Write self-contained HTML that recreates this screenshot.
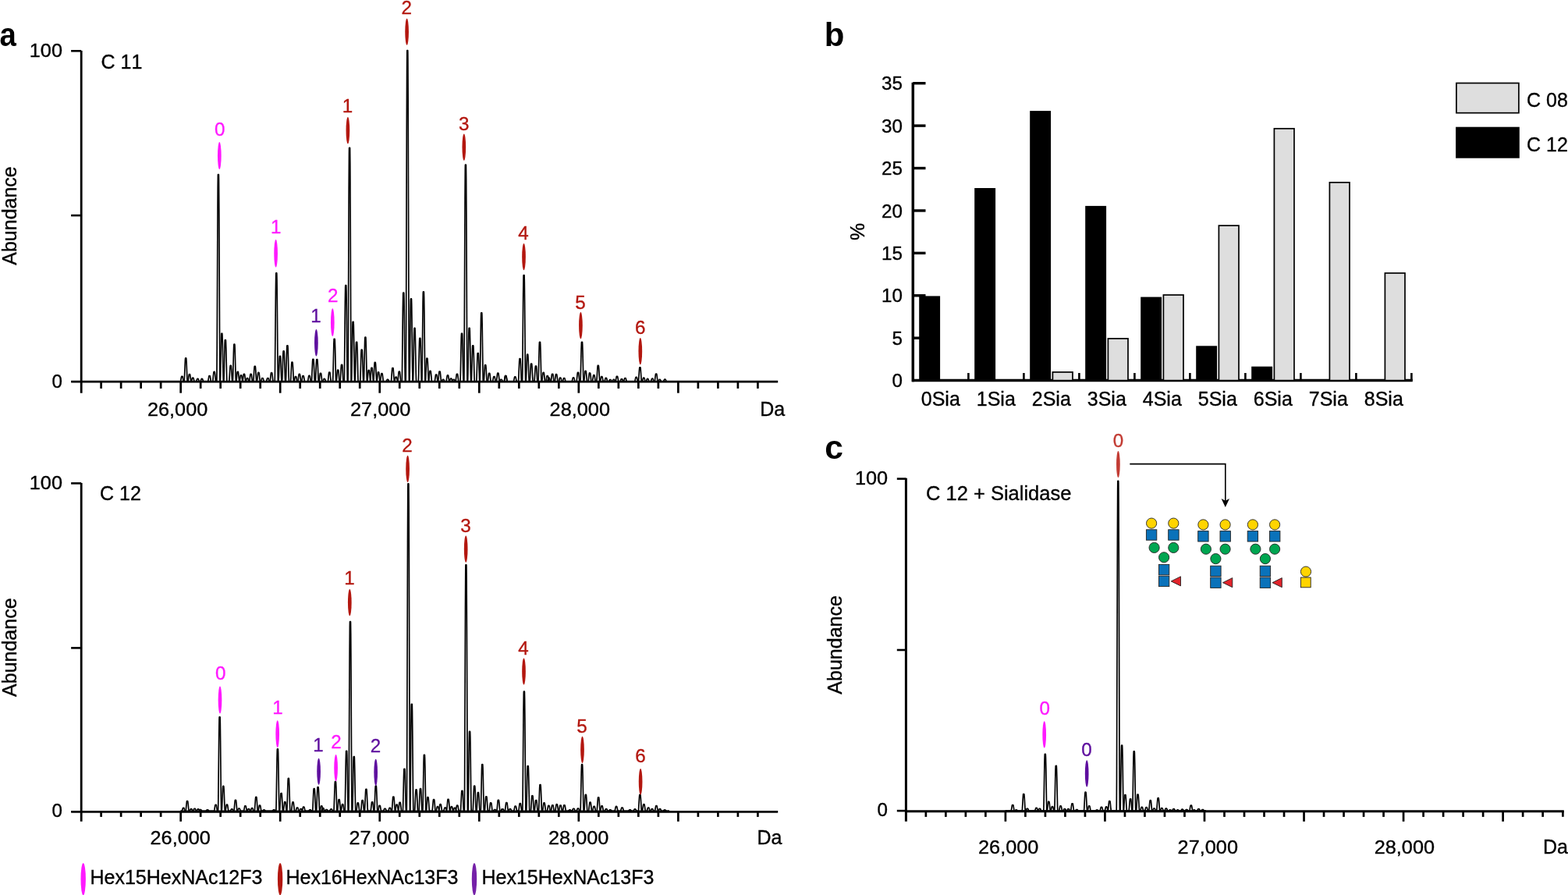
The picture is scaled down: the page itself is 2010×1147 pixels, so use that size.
<!DOCTYPE html>
<html lang="en"><head><meta charset="utf-8"><title>Figure</title>
<style>html,body{margin:0;padding:0;background:#fff;}body{width:2010px;height:1147px;overflow:hidden;}svg{display:block;}text{font-family:"Liberation Sans", sans-serif;font-kerning:none;}</style>
</head><body>
<svg width="2010" height="1147" viewBox="0 0 2010 1147">
<rect width="2010" height="1147" fill="#fff"/>
<text x="-0.60" y="58.70" font-size="42.50" text-anchor="start" fill="#000" stroke="#000" stroke-width="0" font-weight="bold" textLength="21.3" lengthAdjust="spacingAndGlyphs">a</text>
<line x1="104.20" y1="65.00" x2="104.20" y2="503.70" stroke="#000" stroke-width="2.80"/>
<line x1="91.10" y1="489.10" x2="997.20" y2="489.10" stroke="#000" stroke-width="2.60"/>
<line x1="91.10" y1="65.30" x2="104.20" y2="65.30" stroke="#000" stroke-width="2.60"/>
<line x1="91.10" y1="276.10" x2="104.20" y2="276.10" stroke="#000" stroke-width="2.60"/>
<line x1="129.61" y1="489.10" x2="129.61" y2="497.90" stroke="#000" stroke-width="2.70"/>
<line x1="155.12" y1="489.10" x2="155.12" y2="497.90" stroke="#000" stroke-width="2.70"/>
<line x1="180.63" y1="489.10" x2="180.63" y2="497.90" stroke="#000" stroke-width="2.70"/>
<line x1="206.14" y1="489.10" x2="206.14" y2="497.90" stroke="#000" stroke-width="2.70"/>
<line x1="231.65" y1="489.10" x2="231.65" y2="503.70" stroke="#000" stroke-width="2.70"/>
<line x1="257.16" y1="489.10" x2="257.16" y2="497.90" stroke="#000" stroke-width="2.70"/>
<line x1="282.67" y1="489.10" x2="282.67" y2="497.90" stroke="#000" stroke-width="2.70"/>
<line x1="308.18" y1="489.10" x2="308.18" y2="497.90" stroke="#000" stroke-width="2.70"/>
<line x1="333.69" y1="489.10" x2="333.69" y2="497.90" stroke="#000" stroke-width="2.70"/>
<line x1="359.19" y1="489.10" x2="359.19" y2="503.70" stroke="#000" stroke-width="2.70"/>
<line x1="384.70" y1="489.10" x2="384.70" y2="497.90" stroke="#000" stroke-width="2.70"/>
<line x1="410.21" y1="489.10" x2="410.21" y2="497.90" stroke="#000" stroke-width="2.70"/>
<line x1="435.72" y1="489.10" x2="435.72" y2="497.90" stroke="#000" stroke-width="2.70"/>
<line x1="461.23" y1="489.10" x2="461.23" y2="497.90" stroke="#000" stroke-width="2.70"/>
<line x1="486.74" y1="489.10" x2="486.74" y2="503.70" stroke="#000" stroke-width="2.70"/>
<line x1="512.25" y1="489.10" x2="512.25" y2="497.90" stroke="#000" stroke-width="2.70"/>
<line x1="537.76" y1="489.10" x2="537.76" y2="497.90" stroke="#000" stroke-width="2.70"/>
<line x1="563.27" y1="489.10" x2="563.27" y2="497.90" stroke="#000" stroke-width="2.70"/>
<line x1="588.78" y1="489.10" x2="588.78" y2="497.90" stroke="#000" stroke-width="2.70"/>
<line x1="614.28" y1="489.10" x2="614.28" y2="503.70" stroke="#000" stroke-width="2.70"/>
<line x1="639.79" y1="489.10" x2="639.79" y2="497.90" stroke="#000" stroke-width="2.70"/>
<line x1="665.30" y1="489.10" x2="665.30" y2="497.90" stroke="#000" stroke-width="2.70"/>
<line x1="690.81" y1="489.10" x2="690.81" y2="497.90" stroke="#000" stroke-width="2.70"/>
<line x1="716.32" y1="489.10" x2="716.32" y2="497.90" stroke="#000" stroke-width="2.70"/>
<line x1="741.83" y1="489.10" x2="741.83" y2="503.70" stroke="#000" stroke-width="2.70"/>
<line x1="767.34" y1="489.10" x2="767.34" y2="497.90" stroke="#000" stroke-width="2.70"/>
<line x1="792.85" y1="489.10" x2="792.85" y2="497.90" stroke="#000" stroke-width="2.70"/>
<line x1="818.36" y1="489.10" x2="818.36" y2="497.90" stroke="#000" stroke-width="2.70"/>
<line x1="843.87" y1="489.10" x2="843.87" y2="497.90" stroke="#000" stroke-width="2.70"/>
<line x1="869.38" y1="489.10" x2="869.38" y2="503.70" stroke="#000" stroke-width="2.70"/>
<line x1="894.88" y1="489.10" x2="894.88" y2="497.90" stroke="#000" stroke-width="2.70"/>
<line x1="920.39" y1="489.10" x2="920.39" y2="497.90" stroke="#000" stroke-width="2.70"/>
<line x1="945.90" y1="489.10" x2="945.90" y2="497.90" stroke="#000" stroke-width="2.70"/>
<line x1="971.41" y1="489.10" x2="971.41" y2="497.90" stroke="#000" stroke-width="2.70"/>
<text x="80.00" y="72.80" font-size="24.20" text-anchor="end" fill="#000" stroke="#000" stroke-width="0.35" font-weight="normal" textLength="42.20" lengthAdjust="spacingAndGlyphs">100</text>
<text x="80.00" y="497.20" font-size="24.20" text-anchor="end" fill="#000" stroke="#000" stroke-width="0.35" font-weight="normal">0</text>
<text x="129.50" y="88.20" font-size="25.00" text-anchor="start" fill="#000" stroke="#000" stroke-width="0.35" font-weight="normal">C 11</text>
<text transform="translate(20.5,276.5) rotate(-90)" font-size="25.00" text-anchor="middle" stroke="#000" stroke-width="0.35">Abundance</text>
<text x="227.60" y="533.30" font-size="24.20" text-anchor="middle" fill="#000" stroke="#000" stroke-width="0.35" font-weight="normal" textLength="77.37" lengthAdjust="spacingAndGlyphs">26,000</text>
<text x="487.70" y="533.30" font-size="24.20" text-anchor="middle" fill="#000" stroke="#000" stroke-width="0.35" font-weight="normal" textLength="77.37" lengthAdjust="spacingAndGlyphs">27,000</text>
<text x="743.30" y="533.30" font-size="24.20" text-anchor="middle" fill="#000" stroke="#000" stroke-width="0.35" font-weight="normal" textLength="77.37" lengthAdjust="spacingAndGlyphs">28,000</text>
<text x="974.20" y="533.30" font-size="25.00" text-anchor="start" fill="#000" stroke="#000" stroke-width="0.35" font-weight="normal">Da</text>
<polyline points="231.50,488.67 231.80,487.38 232.40,483.82 232.70,482.59 232.90,482.25 233.80,482.23 234.00,482.47 234.20,483.12 235.00,487.66 235.20,488.53 235.40,489.01 235.60,489.10 240.80,489.10 240.90,489.01 241.00,488.78 241.20,487.88 242.00,481.64 242.30,480.03 242.50,479.65 243.30,479.64 243.40,479.65 243.50,479.78 243.70,480.49 244.70,487.93 244.90,488.81 245.00,489.03 245.10,489.10 251.30,489.10 251.50,488.95 251.70,488.58 252.60,485.93 252.80,485.58 252.90,485.49 253.10,485.46 253.90,485.47 254.10,485.66 254.40,486.32 255.10,488.47 255.30,488.88 255.50,489.08 266.40,489.10 266.50,489.05 266.60,488.87 266.80,488.18 267.80,482.27 268.00,481.70 268.10,481.59 268.20,481.58 269.00,481.59 269.20,481.89 269.50,483.15 270.20,487.62 270.40,488.53 270.60,489.03 270.70,489.10 277.70,489.10 277.80,488.55 277.90,484.21 278.20,447.19 278.90,290.69 279.20,240.41 279.40,225.02 279.50,223.62 280.30,223.62 280.40,225.02 280.50,230.65 280.80,270.93 281.70,463.18 281.90,484.21 282.00,488.55 282.10,489.10 286.70,489.10 286.80,488.79 287.00,485.62 287.20,479.41 288.10,440.76 288.30,436.59 288.40,435.75 288.50,435.66 289.30,435.67 289.40,436.24 289.50,437.66 289.80,446.49 290.60,481.84 290.80,487.08 290.90,488.51 291.00,489.09 298.20,489.10 298.30,488.90 298.50,486.24 298.70,480.84 299.40,452.50 299.70,443.81 299.90,441.36 300.00,441.22 300.70,441.22 300.80,441.22 300.90,441.63 301.00,442.81 301.20,447.32 302.10,482.22 302.30,487.08 302.50,489.07 306.90,489.10 307.00,489.03 307.20,488.49 307.40,487.50 308.10,482.65 308.40,481.27 308.60,480.94 309.40,480.94 309.50,480.94 309.60,481.06 309.80,481.67 310.80,488.10 311.00,488.85 311.10,489.04 311.20,489.10 315.00,489.07 315.20,488.80 315.40,488.27 316.30,484.99 316.50,484.64 316.70,484.56 317.50,484.56 317.70,484.73 318.00,485.48 318.70,488.18 318.90,488.74 319.10,489.05 319.20,489.10 324.60,489.10 324.70,488.99 324.80,488.55 325.00,486.79 325.80,473.78 326.10,470.27 326.30,469.33 327.10,469.29 327.20,469.30 327.30,469.50 327.50,470.86 327.80,474.83 328.50,486.40 328.70,488.35 328.80,488.88 328.90,489.10 334.40,489.07 334.60,488.81 334.80,488.28 335.70,485.00 335.90,484.64 336.10,484.56 336.90,484.56 337.10,484.72 337.40,485.47 338.20,488.48 338.40,488.92 338.60,489.10 346.00,489.08 346.20,488.56 346.40,487.37 347.10,480.67 347.40,478.47 347.60,477.78 347.70,477.70 348.50,477.70 348.60,477.75 348.70,477.97 348.90,478.94 349.80,487.23 350.00,488.48 350.20,489.07 356.80,489.10 356.90,488.95 357.00,488.28 357.30,483.38 358.20,459.65 358.40,457.00 358.50,456.44 358.60,456.36 359.40,456.36 359.50,456.65 359.70,458.80 360.00,465.28 360.60,482.20 360.80,486.33 361.00,488.68 361.10,489.08 361.20,489.10 366.30,489.06 366.50,487.07 366.70,482.33 367.40,455.14 367.70,446.08 367.90,443.14 368.00,442.78 368.80,442.78 368.90,442.92 369.00,443.77 369.20,447.61 370.10,481.23 370.40,488.03 370.50,488.92 370.60,489.10 376.80,489.10 377.00,489.02 377.20,488.54 377.40,487.71 378.20,483.34 378.40,482.71 378.50,482.55 378.70,482.49 379.50,482.50 379.70,482.84 380.00,484.03 380.70,487.95 380.90,488.70 381.10,489.07 386.50,489.08 386.70,488.71 386.90,487.90 387.80,482.43 388.00,481.77 388.10,481.62 388.20,481.58 389.10,481.62 389.30,482.07 389.60,483.50 390.30,487.93 390.50,488.73 390.70,489.09 399.20,489.10 399.30,489.05 399.50,487.67 399.70,484.60 400.60,463.59 400.80,461.03 400.90,460.40 401.00,460.24 401.80,460.24 401.90,460.38 402.10,462.03 402.40,467.46 403.10,484.49 403.30,487.60 403.50,489.03 403.60,489.10 408.80,489.10 408.90,489.05 409.10,488.44 409.30,487.22 410.00,480.86 410.30,478.92 410.50,478.38 411.40,478.35 411.50,478.45 411.60,478.72 411.80,479.74 412.70,487.58 412.90,488.66 413.10,489.09 420.20,489.10 420.40,488.62 420.60,487.42 421.40,479.44 421.70,477.48 421.80,477.17 421.90,477.06 422.70,477.05 422.80,477.08 422.90,477.28 423.10,478.24 424.00,486.97 424.20,488.35 424.40,489.04 424.50,489.10 431.10,489.06 431.30,488.31 431.50,486.69 432.20,477.90 432.50,475.11 432.70,474.28 432.80,474.21 433.60,474.21 433.70,474.30 433.80,474.63 434.00,475.96 434.90,486.81 435.10,488.38 435.30,489.08 441.10,489.10 441.20,488.85 441.30,486.82 441.50,477.04 442.40,387.57 442.70,368.82 442.80,366.20 442.90,365.55 443.70,365.55 443.80,366.20 444.00,373.37 444.30,396.76 445.00,469.60 445.30,486.82 445.40,488.85 445.50,489.10 450.40,489.10 450.50,488.92 450.70,485.12 450.90,476.84 451.80,421.02 452.00,414.34 452.10,412.75 452.20,412.38 453.00,412.38 453.10,412.81 453.30,417.33 453.60,431.94 454.30,477.14 454.60,487.74 454.70,488.96 454.80,489.10 461.60,489.07 461.80,487.36 462.00,483.21 462.90,453.40 463.10,449.56 463.20,448.55 463.30,448.21 463.40,448.21 464.10,448.21 464.20,448.32 464.40,450.42 464.70,457.86 465.40,482.06 465.70,488.12 465.80,488.93 465.90,489.10 470.60,489.10 470.70,489.03 470.90,488.21 471.10,486.55 472.00,475.95 472.20,474.76 472.30,474.51 472.40,474.47 473.20,474.47 473.30,474.60 473.50,475.55 473.80,478.44 474.40,486.01 474.60,487.85 474.80,488.91 474.90,489.09 475.00,489.10 478.60,489.10 478.70,489.04 478.90,487.81 479.10,485.13 480.00,467.15 480.20,465.00 480.30,464.50 480.40,464.38 481.20,464.38 481.30,464.52 481.50,465.99 481.80,470.70 482.50,485.26 482.70,487.89 482.90,489.06 483.00,489.10 487.30,489.10 487.40,489.03 487.60,488.40 487.80,487.18 488.50,480.96 488.80,479.11 489.00,478.62 489.80,478.61 489.90,478.61 490.00,478.73 490.20,479.45 490.50,481.57 491.20,487.69 491.40,488.71 491.60,489.10 501.30,489.10 501.40,488.90 501.50,488.42 501.70,486.69 502.50,475.04 502.80,472.14 502.90,471.68 503.00,471.50 503.80,471.49 503.90,471.53 504.00,471.81 504.20,473.19 505.10,485.93 505.30,487.96 505.50,489.00 505.60,489.10 509.60,489.10 509.70,489.10 509.80,488.97 510.00,488.11 510.20,486.52 510.90,478.84 511.20,476.66 511.40,476.15 512.20,476.15 512.30,476.17 512.40,476.36 512.60,477.34 513.50,486.69 513.70,488.22 513.90,489.01 514.00,489.10 520.10,489.10 520.20,488.23 520.30,481.28 520.60,422.10 521.30,171.88 521.60,91.50 521.80,66.89 521.90,64.65 522.70,64.65 522.80,66.89 522.90,75.89 523.20,140.30 524.10,447.66 524.30,481.28 524.40,488.23 524.50,489.10 529.30,489.10 529.40,488.97 529.60,485.69 529.80,478.37 530.70,428.36 530.90,422.27 531.00,420.78 531.10,420.40 531.90,420.40 532.00,420.74 532.20,424.67 532.50,437.62 533.20,478.14 533.40,485.55 533.60,488.94 533.70,489.10 540.70,489.10 540.80,488.86 541.00,483.27 541.20,470.92 542.10,387.12 542.30,377.00 542.40,374.56 542.50,373.95 543.30,373.95 543.40,374.56 543.60,381.23 543.90,403.04 544.60,470.92 544.90,486.98 545.00,488.86 545.10,489.10 549.40,489.10 549.50,488.99 549.70,488.12 549.90,486.48 550.70,477.38 551.00,475.57 551.10,475.39 551.20,475.37 552.00,475.38 552.20,475.95 552.50,478.29 553.30,487.35 553.50,488.64 553.60,488.98 553.70,489.10 561.40,489.10 561.50,489.05 561.70,488.34 561.90,486.88 562.80,477.38 563.00,476.30 563.10,476.06 563.20,476.02 564.00,476.02 564.10,476.12 564.30,476.95 564.60,479.51 565.30,487.19 565.50,488.53 565.70,489.09 571.70,489.10 571.80,489.10 571.90,489.00 572.20,487.97 573.00,482.57 573.30,481.23 573.50,480.94 574.30,480.94 574.40,480.95 574.50,481.09 574.70,481.73 575.60,487.64 575.80,488.58 576.00,489.06 576.10,489.10 579.60,489.09 579.80,488.95 580.00,488.65 580.70,487.04 581.00,486.53 581.20,486.38 582.10,486.37 582.30,486.45 582.50,486.69 583.40,488.68 583.60,488.97 583.80,489.10 589.90,489.09 590.00,488.48 590.10,486.87 590.30,480.91 591.00,444.86 591.30,432.32 591.50,427.98 591.60,427.27 591.70,427.25 592.40,427.25 592.50,427.34 592.70,430.15 593.00,440.98 593.70,477.65 593.90,484.92 594.10,488.69 594.20,489.10 599.40,489.10 599.50,489.02 599.70,485.94 599.90,478.79 600.80,428.74 601.00,422.46 601.10,420.88 601.20,420.40 602.00,420.40 602.10,420.66 602.30,424.39 602.60,437.11 603.30,477.71 603.60,487.63 603.70,488.88 603.80,489.10 610.50,489.10 610.60,489.09 610.70,488.71 610.90,486.21 611.10,481.69 611.90,457.47 612.10,453.87 612.20,452.88 612.30,452.49 612.40,452.48 613.10,452.48 613.20,452.54 613.40,454.24 613.70,460.70 614.50,484.78 614.70,488.06 614.80,488.88 614.90,489.10 620.00,489.10 620.10,489.01 620.30,487.83 620.50,485.41 621.40,469.82 621.60,468.06 621.70,467.67 621.80,467.61 622.60,467.61 622.70,467.79 622.90,469.18 623.20,473.40 623.90,486.00 624.10,488.18 624.30,489.08 631.30,489.10 631.50,488.85 631.70,488.20 632.50,483.82 632.80,482.73 633.00,482.49 633.80,482.49 633.90,482.50 634.00,482.61 634.20,483.12 635.10,487.91 635.30,488.67 635.50,489.06 640.40,489.09 640.60,488.95 640.80,488.65 641.50,487.03 641.80,486.53 642.00,486.38 642.90,486.37 643.10,486.45 643.30,486.70 644.10,488.50 644.30,488.85 644.50,489.06 646.20,489.09 646.40,488.74 646.60,487.96 647.50,482.48 647.70,481.80 647.80,481.63 647.90,481.58 648.80,481.61 649.00,482.03 649.30,483.43 650.00,487.87 650.20,488.69 650.40,489.08 664.40,489.07 664.60,487.80 664.80,484.78 665.70,463.27 665.90,460.53 666.00,459.82 666.10,459.59 666.90,459.59 667.00,459.69 667.20,461.24 667.50,466.64 668.20,484.10 668.40,487.39 668.60,488.99 668.70,489.10 674.10,489.07 674.30,487.58 674.50,484.01 675.40,458.55 675.60,455.29 675.70,454.44 675.80,454.16 676.60,454.16 676.70,454.27 676.90,456.09 677.20,462.47 677.90,483.14 678.20,488.28 678.30,488.96 678.40,489.10 684.80,489.10 684.90,488.95 685.10,487.70 685.30,485.32 686.10,472.01 686.40,469.34 686.50,469.06 686.60,469.04 687.40,469.05 687.60,469.86 687.90,473.26 688.70,486.50 688.90,488.41 689.00,488.92 689.10,489.10 694.50,489.10 694.60,489.02 694.80,488.29 695.00,486.91 695.60,480.92 695.90,478.50 696.10,477.62 696.20,477.46 696.30,477.44 697.10,477.45 697.30,477.92 697.60,479.88 698.40,487.58 698.60,488.69 698.70,488.99 698.80,489.10 701.50,489.10 701.60,489.05 701.80,488.72 702.00,488.12 702.80,484.86 703.00,484.37 703.10,484.23 703.30,484.17 704.10,484.18 704.30,484.40 704.60,485.26 705.30,488.18 705.50,488.76 705.70,489.07 711.00,489.07 711.20,488.56 711.40,487.51 712.30,480.64 712.50,479.85 712.60,479.67 712.70,479.64 713.50,479.64 713.60,479.71 713.80,480.31 714.10,482.15 714.80,487.70 715.00,488.68 715.20,489.09 721.10,489.08 721.30,488.82 721.50,488.30 722.20,485.61 722.50,484.80 722.70,484.57 723.50,484.56 723.70,484.60 723.80,484.71 724.00,485.15 724.90,488.46 725.10,488.91 725.30,489.10 738.90,489.09 739.10,488.61 739.30,487.43 740.10,479.62 740.40,477.72 740.50,477.42 740.60,477.31 741.40,477.31 741.50,477.34 741.60,477.55 741.80,478.50 742.70,487.04 742.90,488.38 743.10,489.05 743.20,489.10 748.40,489.10 748.50,489.07 748.60,488.84 748.90,486.91 749.60,478.81 749.90,476.22 750.10,475.44 750.20,475.37 751.00,475.37 751.10,475.45 751.20,475.75 751.50,477.85 752.40,487.78 752.60,488.86 752.70,489.08 752.80,489.10 759.10,489.10 759.20,489.10 759.30,489.01 759.50,488.42 759.70,487.38 760.50,481.81 760.70,480.99 760.80,480.77 761.00,480.68 761.80,480.69 762.00,481.09 762.30,482.59 763.10,488.12 763.30,488.87 763.40,489.05 763.50,489.10 769.20,489.08 769.40,488.75 769.60,488.03 770.50,483.22 770.70,482.65 770.80,482.52 770.90,482.49 771.70,482.49 771.80,482.53 772.00,482.93 772.30,484.19 773.00,488.08 773.20,488.78 773.40,489.09 780.20,489.09 780.40,488.96 780.60,488.67 781.30,487.13 781.60,486.65 781.80,486.51 782.70,486.50 782.90,486.58 783.10,486.81 783.90,488.53 784.10,488.86 784.30,489.06 788.80,489.10 789.00,488.89 789.20,488.25 790.20,482.85 790.40,482.33 790.60,482.23 791.40,482.23 791.60,482.51 791.90,483.67 792.70,488.21 792.90,488.86 793.10,489.10 799.20,489.10 799.40,489.05 799.70,488.48 800.50,485.47 800.80,484.73 801.00,484.56 801.80,484.56 802.00,484.64 802.20,484.99 803.10,488.28 803.30,488.81 803.50,489.07 818.20,489.10 818.30,489.06 818.40,488.76 818.70,486.22 819.40,475.46 819.70,472.00 819.90,470.95 820.00,470.85 820.80,470.85 820.90,470.95 821.00,471.33 821.20,472.94 822.10,486.22 822.30,488.18 822.50,489.06 828.10,489.07 828.30,488.84 828.50,488.40 829.20,486.24 829.50,485.62 829.70,485.47 830.50,485.46 830.70,485.51 831.00,485.99 831.80,488.40 832.00,488.84 832.20,489.07 839.00,489.10 839.10,489.01 839.20,488.75 839.40,487.79 840.20,481.12 840.50,479.41 840.70,479.00 841.50,479.00 841.60,479.01 841.70,479.15 841.90,479.91 842.20,482.00 842.80,487.20 843.00,488.40 843.20,489.03 843.30,489.10 850.30,489.09 850.50,488.95 850.70,488.62 851.40,486.86 851.70,486.30 851.90,486.12 852.80,486.11 853.00,486.19 853.20,486.46 854.00,488.42 854.30,488.95 854.50,489.09 855.00,489.10" fill="none" stroke="#000" stroke-width="1.70" stroke-linejoin="round"/>
<polyline points="231.50,489.10 236.00,489.10 236.10,488.90 236.30,487.05 236.50,483.50 237.40,461.72 237.60,459.42 237.70,458.98 237.80,458.95 238.60,458.96 238.70,459.31 238.80,460.14 239.10,465.20 239.90,485.13 240.10,488.02 240.20,488.80 240.30,489.10 245.10,489.09 245.30,488.88 245.50,488.37 246.20,485.47 246.50,484.51 246.70,484.21 246.80,484.17 247.60,484.17 247.80,484.28 248.00,484.69 248.90,488.28 249.10,488.82 249.30,489.08 256.80,489.07 257.00,488.85 257.20,488.42 257.90,486.26 258.20,485.63 258.40,485.47 259.20,485.46 259.40,485.51 259.60,485.77 260.60,488.63 260.80,488.97 261.00,489.10 272.50,489.10 272.60,488.97 272.70,488.63 272.90,487.40 273.60,479.99 273.90,477.43 274.10,476.55 274.20,476.41 274.30,476.41 275.10,476.43 275.30,477.02 275.60,479.25 276.30,486.78 276.50,488.26 276.70,489.02 276.80,489.10 282.20,489.09 282.30,488.47 282.40,486.84 282.60,480.85 283.30,444.78 283.60,432.28 283.80,427.96 283.90,427.27 284.00,427.25 284.70,427.25 284.80,427.34 285.00,430.18 285.30,441.05 286.10,481.73 286.30,487.31 286.40,488.70 286.50,489.10 293.60,489.09 293.80,488.22 294.00,486.12 294.90,471.02 295.10,469.07 295.20,468.56 295.30,468.39 295.40,468.39 296.10,468.39 296.20,468.45 296.40,469.51 296.70,473.27 297.40,485.53 297.70,488.60 297.80,489.01 297.90,489.10 302.60,489.10 302.70,489.04 302.90,488.33 303.10,486.89 304.00,477.69 304.20,476.66 304.30,476.44 304.40,476.41 305.20,476.41 305.30,476.52 305.40,476.84 305.70,478.88 306.50,487.29 306.70,488.57 306.90,489.09 310.70,489.10 310.80,489.10 310.90,488.98 311.10,488.28 311.30,487.06 312.10,480.64 312.30,479.72 312.40,479.47 312.50,479.38 312.60,479.38 313.40,479.41 313.60,479.89 313.90,481.65 314.60,487.40 314.80,488.51 315.00,489.05 315.10,489.10 319.50,489.07 319.70,488.58 319.90,487.51 320.60,481.78 320.90,479.96 321.10,479.42 322.00,479.38 322.10,479.45 322.20,479.66 322.40,480.54 323.30,487.62 323.50,488.64 323.70,489.09 329.30,489.09 329.50,488.61 329.70,487.43 330.50,479.71 330.80,477.83 330.90,477.54 331.00,477.44 331.80,477.44 331.90,477.47 332.00,477.68 332.20,478.63 333.10,487.08 333.30,488.40 333.50,489.05 333.60,489.10 341.20,489.10 341.40,488.91 341.60,488.45 342.40,485.44 342.70,484.71 342.90,484.56 343.70,484.56 343.90,484.65 344.10,485.02 345.00,488.31 345.20,488.83 345.40,489.08 352.10,489.10 352.20,488.81 352.30,486.53 352.50,475.50 353.40,374.67 353.70,353.54 353.80,350.58 353.90,349.85 354.70,349.85 354.80,350.58 355.00,358.66 355.30,385.03 356.00,467.12 356.30,486.53 356.40,488.81 356.50,489.10 361.40,489.10 361.50,489.09 361.60,488.65 361.80,485.92 362.00,481.04 362.80,455.12 363.00,451.32 363.10,450.29 363.20,449.90 363.30,449.89 364.00,449.89 364.10,449.97 364.30,451.85 364.60,458.83 365.40,484.57 365.60,488.04 365.70,488.88 365.80,489.10 372.30,489.10 372.40,489.04 372.60,487.81 372.80,485.12 373.70,466.94 373.90,464.76 374.00,464.24 374.10,464.12 374.90,464.12 375.00,464.26 375.20,465.73 375.50,470.48 376.20,485.20 376.40,487.86 376.60,489.05 376.70,489.10 381.70,489.09 381.90,488.65 382.10,487.64 382.80,481.92 383.10,480.05 383.30,479.45 383.40,479.38 384.20,479.38 384.30,479.42 384.40,479.61 384.60,480.43 385.50,487.50 385.70,488.56 385.90,489.07 394.40,489.08 394.60,488.67 394.80,487.81 395.50,483.21 395.80,481.77 396.00,481.35 396.90,481.32 397.00,481.38 397.10,481.56 397.30,482.27 398.20,487.94 398.40,488.74 398.60,489.09 404.20,489.08 404.40,487.85 404.60,484.93 405.50,464.08 405.70,461.42 405.80,460.73 405.90,460.50 406.70,460.50 406.80,460.59 407.00,462.08 407.30,467.31 408.00,484.23 408.20,487.43 408.40,488.99 408.50,489.10 413.70,489.08 413.90,488.86 414.10,488.43 414.80,486.27 415.10,485.63 415.30,485.47 416.10,485.46 416.30,485.51 416.50,485.76 416.80,486.50 417.50,488.62 417.70,488.97 417.90,489.10 426.50,489.10 426.60,488.79 426.70,487.60 427.00,479.22 427.90,439.61 428.10,435.33 428.20,434.47 428.30,434.37 429.10,434.38 429.20,434.95 429.30,436.40 429.60,445.42 430.40,481.63 430.60,487.01 430.70,488.49 430.80,489.09 436.00,489.07 436.20,488.08 436.40,485.80 437.10,473.01 437.40,468.82 437.60,467.50 437.70,467.35 438.50,467.35 438.60,467.44 438.70,467.87 438.90,469.72 439.80,485.53 440.00,487.92 440.20,489.04 440.30,489.10 445.90,489.10 446.00,488.48 446.10,483.57 446.30,459.82 447.20,242.67 447.50,197.17 447.60,190.81 447.70,189.23 448.50,189.23 448.60,190.81 448.80,208.20 449.10,264.98 449.80,441.76 450.10,483.57 450.20,488.48 450.30,489.10 454.90,489.10 455.00,489.07 455.10,488.44 455.30,484.78 455.50,478.37 456.30,444.80 456.50,439.98 456.60,438.70 456.70,438.25 457.50,438.25 457.60,438.38 457.80,440.94 458.10,450.13 458.80,480.24 459.00,486.01 459.20,488.87 459.30,489.10 466.20,489.10 466.30,488.86 466.50,485.70 466.70,479.27 467.60,437.98 467.80,433.33 467.90,432.33 468.00,432.17 468.80,432.17 468.90,432.66 469.00,434.06 469.30,443.20 470.10,480.92 470.30,486.69 470.50,489.06 474.30,489.10 474.40,489.09 474.50,488.88 474.70,487.61 474.90,485.37 475.50,476.14 475.80,472.59 476.00,471.40 476.10,471.23 476.90,471.23 477.00,471.27 477.10,471.58 477.30,473.00 478.20,485.95 478.50,488.64 478.60,489.01 478.70,489.10 482.90,489.10 483.00,489.03 483.20,488.29 483.40,486.86 484.30,477.96 484.50,477.01 484.60,476.82 484.70,476.80 485.50,476.80 485.70,477.26 486.00,479.30 486.80,487.44 487.00,488.64 487.20,489.10 494.90,489.08 495.10,488.92 495.30,488.60 496.20,486.63 496.40,486.42 496.60,486.37 497.40,486.37 497.60,486.47 497.90,486.92 498.60,488.54 498.80,488.88 499.00,489.07 505.60,489.09 505.80,488.80 506.00,488.16 506.70,484.65 507.00,483.52 507.20,483.17 508.10,483.13 508.30,483.29 508.50,483.81 509.40,488.15 509.60,488.79 509.80,489.09 515.10,489.10 515.20,488.87 515.30,487.00 515.50,477.96 516.40,395.38 516.70,378.07 516.80,375.65 516.90,375.05 517.70,375.05 517.80,375.65 518.00,382.26 518.30,403.86 519.00,471.10 519.30,487.00 519.40,488.87 519.50,489.10 524.80,489.10 524.90,488.88 525.10,483.72 525.30,472.34 526.20,395.09 526.40,385.76 526.50,383.51 526.60,382.95 527.40,382.95 527.50,383.51 527.70,389.66 528.00,409.77 528.70,472.34 529.00,487.14 529.10,488.88 529.20,489.10 536.20,489.10 536.30,488.71 536.50,485.28 536.70,478.70 537.30,450.06 537.60,438.43 537.80,434.21 537.90,433.40 538.00,433.33 538.80,433.36 538.90,434.01 539.00,435.56 539.30,444.94 540.10,481.78 540.30,487.13 540.40,488.56 540.50,489.10 545.30,489.07 545.50,487.74 545.70,484.63 546.40,467.06 546.70,461.27 546.90,459.42 547.00,459.20 547.80,459.20 547.90,459.31 548.00,459.89 548.30,464.27 549.20,485.97 549.40,488.45 549.50,489.00 549.60,489.10 557.10,489.07 557.30,488.58 557.50,487.57 558.40,480.99 558.60,480.23 558.70,480.06 558.80,480.03 559.60,480.03 559.70,480.10 559.90,480.67 560.20,482.44 560.90,487.76 561.10,488.70 561.30,489.09 565.90,489.10 566.10,489.06 566.30,488.85 566.50,488.49 567.30,486.70 567.50,486.45 567.70,486.37 568.60,486.38 568.80,486.53 569.10,487.04 569.80,488.65 570.00,488.95 570.20,489.09 576.00,489.08 576.20,488.84 576.40,488.38 577.10,486.00 577.40,485.28 577.60,485.08 578.40,485.07 578.60,485.12 578.70,485.22 578.90,485.61 579.70,488.27 579.90,488.77 580.10,489.05 580.30,489.10 583.80,489.10 583.90,489.03 584.00,488.81 584.20,487.92 585.20,480.16 585.40,479.41 585.50,479.27 585.60,479.25 586.40,479.26 586.60,479.64 586.90,481.29 587.60,487.13 587.80,488.34 588.00,489.00 588.10,489.10 594.70,489.10 594.80,488.53 594.90,483.97 595.10,461.95 596.00,260.61 596.30,218.42 596.40,212.52 596.50,211.06 597.30,211.06 597.40,212.52 597.60,228.64 597.90,281.30 598.60,445.21 598.90,483.97 599.00,488.53 599.10,489.10 604.10,489.10 604.20,488.85 604.40,486.14 604.60,480.80 605.50,447.27 605.70,443.62 605.80,442.87 605.90,442.78 606.70,442.78 606.80,443.25 606.90,444.46 607.20,452.06 608.00,482.72 608.20,487.30 608.30,488.56 608.40,489.09 615.10,489.10 615.20,488.56 615.30,486.60 615.60,472.96 616.50,409.07 616.70,402.23 616.80,400.88 616.90,400.74 617.70,400.76 617.80,401.72 617.90,404.10 618.20,418.78 619.00,477.21 619.20,485.82 619.30,488.16 619.40,489.09 625.10,489.09 625.30,488.65 625.50,487.57 626.30,480.45 626.60,478.71 626.70,478.44 626.80,478.35 627.60,478.35 627.70,478.38 627.80,478.56 628.00,479.43 628.90,487.23 629.10,488.45 629.30,489.05 629.40,489.10 636.20,489.10 636.30,489.01 636.40,488.73 636.60,487.70 637.40,480.43 637.70,478.56 637.90,478.10 638.70,478.09 638.80,478.10 638.90,478.25 639.10,479.06 640.10,487.72 640.30,488.75 640.40,489.01 640.50,489.10 646.00,489.10 646.10,489.04 646.30,488.55 646.50,487.65 647.30,482.67 647.60,481.69 647.70,481.59 647.80,481.58 648.60,481.59 648.80,481.91 649.10,483.20 649.90,488.15 650.10,488.86 650.30,489.10 658.20,489.09 658.40,488.81 658.60,488.15 659.50,483.62 659.70,483.06 659.90,482.88 660.80,482.90 661.00,483.25 661.30,484.41 662.00,488.08 662.20,488.76 662.40,489.08 669.40,489.10 669.50,488.82 669.60,486.58 669.80,475.77 670.70,376.89 671.00,356.17 671.10,353.27 671.20,352.55 672.00,352.55 672.10,353.27 672.30,361.19 672.60,387.05 673.30,467.54 673.60,486.58 673.70,488.82 673.80,489.10 679.00,489.10 679.10,488.85 679.30,487.26 679.50,484.41 680.30,469.17 680.50,466.92 680.60,466.31 680.70,466.06 680.80,466.06 681.60,466.10 681.80,467.19 682.10,471.27 682.80,484.92 683.00,487.60 683.20,488.97 683.30,489.10 689.80,489.10 689.90,489.00 690.10,486.52 690.30,481.07 691.20,444.07 691.40,439.60 691.50,438.52 691.60,438.25 692.40,438.25 692.50,438.52 692.70,441.47 693.00,451.10 693.70,481.07 694.00,488.16 694.10,489.00 694.20,489.10 699.60,489.09 699.80,488.72 700.00,487.92 700.90,482.45 701.10,481.78 701.20,481.62 701.30,481.58 702.20,481.62 702.40,482.05 702.70,483.47 703.40,487.91 703.70,488.96 703.80,489.08 703.90,489.10 706.00,489.10 706.10,489.05 706.30,488.47 706.50,487.34 707.40,480.21 707.60,479.43 707.70,479.27 707.80,479.25 708.60,479.25 708.80,479.61 709.10,481.22 709.90,487.74 710.10,488.72 710.30,489.10 716.20,489.07 716.40,488.76 716.60,488.18 717.30,485.26 717.60,484.40 717.80,484.18 718.60,484.17 718.80,484.23 719.00,484.58 719.30,485.58 720.00,488.45 720.20,488.93 720.40,489.10 732.90,489.10 733.10,488.97 733.30,488.52 734.10,485.12 734.40,484.18 734.60,483.92 735.40,483.91 735.60,483.96 735.70,484.09 735.90,484.58 736.80,488.37 737.00,488.89 737.20,489.10 743.80,489.10 743.90,489.00 744.00,488.16 744.20,484.14 745.10,447.39 745.40,439.69 745.50,438.62 745.60,438.35 746.40,438.35 746.50,438.62 746.70,441.56 747.00,451.17 747.70,481.09 748.00,488.16 748.10,489.00 748.20,489.10 753.80,489.10 753.90,489.10 754.00,488.97 754.20,488.18 754.40,486.79 755.20,479.43 755.40,478.36 755.50,478.07 755.60,477.96 755.70,477.96 756.50,477.98 756.70,478.53 757.00,480.52 757.70,487.12 757.90,488.40 758.10,489.04 758.20,489.10 764.60,489.10 764.70,488.98 764.80,488.53 765.10,485.35 766.00,470.37 766.20,468.75 766.30,468.42 766.40,468.39 767.20,468.39 767.30,468.61 767.40,469.16 767.70,472.58 768.50,486.28 768.70,488.31 768.80,488.87 768.90,489.10 774.80,489.07 775.00,488.77 775.20,488.22 775.90,485.45 776.20,484.64 776.40,484.43 777.20,484.43 777.40,484.49 777.60,484.82 778.60,488.49 778.80,488.94 779.00,489.10 784.70,489.10 784.90,488.98 785.10,488.70 786.00,486.71 786.20,486.45 786.40,486.37 787.30,486.38 787.50,486.52 787.80,487.02 788.50,488.64 788.70,488.94 788.90,489.09 794.80,489.09 795.00,488.94 795.20,488.58 795.90,486.59 796.20,485.94 796.40,485.74 796.50,485.72 797.30,485.72 797.50,485.81 797.70,486.10 798.60,488.55 798.80,488.92 799.00,489.09 813.50,489.10 813.70,488.93 813.90,488.40 814.70,484.57 815.00,483.54 815.20,483.27 816.00,483.26 816.20,483.33 816.40,483.74 816.70,484.92 817.40,488.32 817.60,488.89 817.80,489.10 823.00,489.10 823.20,489.05 823.40,488.70 823.60,488.09 824.30,485.17 824.60,484.35 824.80,484.17 825.60,484.17 825.80,484.26 826.00,484.64 826.90,488.21 827.20,488.96 827.40,489.10 834.00,489.10 834.20,489.05 834.40,488.78 834.60,488.29 835.40,485.72 835.60,485.34 835.70,485.24 835.90,485.20 836.70,485.21 836.90,485.40 837.20,486.10 837.90,488.41 838.10,488.86 838.30,489.08 843.60,489.09 843.80,488.93 844.00,488.62 844.70,487.00 845.00,486.51 845.20,486.37 846.00,486.37 846.30,486.47 846.50,486.73 847.40,488.72 847.60,488.99 847.80,489.10 855.00,489.10" fill="none" stroke="#000" stroke-width="1.70" stroke-linejoin="round"/>
<text x="281.70" y="173.50" font-size="24.20" text-anchor="middle" fill="#FF19FF" stroke="#FF19FF" stroke-width="0.35" font-weight="normal">0</text>
<ellipse cx="281.30" cy="199.55" rx="2.35" ry="17.45" fill="#FF19FF"/>
<text x="353.80" y="298.90" font-size="24.20" text-anchor="middle" fill="#FF19FF" stroke="#FF19FF" stroke-width="0.35" font-weight="normal">1</text>
<ellipse cx="353.60" cy="324.75" rx="2.35" ry="17.85" fill="#FF19FF"/>
<text x="405.00" y="412.50" font-size="24.20" text-anchor="middle" fill="#5E0F9E" stroke="#5E0F9E" stroke-width="0.35" font-weight="normal">1</text>
<ellipse cx="405.40" cy="439.25" rx="2.35" ry="17.25" fill="#5E0F9E"/>
<text x="426.70" y="387.10" font-size="24.20" text-anchor="middle" fill="#FF19FF" stroke="#FF19FF" stroke-width="0.35" font-weight="normal">2</text>
<ellipse cx="426.30" cy="413.15" rx="2.35" ry="17.95" fill="#FF19FF"/>
<text x="445.60" y="144.30" font-size="24.20" text-anchor="middle" fill="#B3170F" stroke="#B3170F" stroke-width="0.35" font-weight="normal">1</text>
<ellipse cx="445.90" cy="167.10" rx="2.35" ry="17.10" fill="#B3170F"/>
<text x="521.20" y="18.40" font-size="24.20" text-anchor="middle" fill="#B3170F" stroke="#B3170F" stroke-width="0.35" font-weight="normal">2</text>
<ellipse cx="521.60" cy="40.75" rx="2.35" ry="17.05" fill="#B3170F"/>
<text x="594.80" y="166.60" font-size="24.20" text-anchor="middle" fill="#B3170F" stroke="#B3170F" stroke-width="0.35" font-weight="normal">3</text>
<ellipse cx="594.80" cy="188.60" rx="2.35" ry="17.10" fill="#B3170F"/>
<text x="671.10" y="307.10" font-size="24.20" text-anchor="middle" fill="#B3170F" stroke="#B3170F" stroke-width="0.35" font-weight="normal">4</text>
<ellipse cx="671.50" cy="329.10" rx="2.35" ry="17.10" fill="#B3170F"/>
<text x="744.00" y="395.50" font-size="24.20" text-anchor="middle" fill="#B3170F" stroke="#B3170F" stroke-width="0.35" font-weight="normal">5</text>
<ellipse cx="744.40" cy="417.10" rx="2.35" ry="17.10" fill="#B3170F"/>
<text x="820.80" y="428.00" font-size="24.20" text-anchor="middle" fill="#B3170F" stroke="#B3170F" stroke-width="0.35" font-weight="normal">6</text>
<ellipse cx="820.80" cy="450.20" rx="2.35" ry="17.10" fill="#B3170F"/>
<line x1="104.20" y1="619.10" x2="104.20" y2="1052.80" stroke="#000" stroke-width="2.80"/>
<line x1="91.10" y1="1040.40" x2="997.20" y2="1040.40" stroke="#000" stroke-width="2.70"/>
<line x1="91.10" y1="619.40" x2="104.20" y2="619.40" stroke="#000" stroke-width="2.60"/>
<line x1="91.10" y1="830.40" x2="104.20" y2="830.40" stroke="#000" stroke-width="2.60"/>
<line x1="129.61" y1="1040.40" x2="129.61" y2="1046.90" stroke="#000" stroke-width="2.70"/>
<line x1="155.12" y1="1040.40" x2="155.12" y2="1046.90" stroke="#000" stroke-width="2.70"/>
<line x1="180.63" y1="1040.40" x2="180.63" y2="1046.90" stroke="#000" stroke-width="2.70"/>
<line x1="206.14" y1="1040.40" x2="206.14" y2="1046.90" stroke="#000" stroke-width="2.70"/>
<line x1="231.65" y1="1040.40" x2="231.65" y2="1052.80" stroke="#000" stroke-width="2.70"/>
<line x1="257.16" y1="1040.40" x2="257.16" y2="1046.90" stroke="#000" stroke-width="2.70"/>
<line x1="282.67" y1="1040.40" x2="282.67" y2="1046.90" stroke="#000" stroke-width="2.70"/>
<line x1="308.18" y1="1040.40" x2="308.18" y2="1046.90" stroke="#000" stroke-width="2.70"/>
<line x1="333.69" y1="1040.40" x2="333.69" y2="1046.90" stroke="#000" stroke-width="2.70"/>
<line x1="359.19" y1="1040.40" x2="359.19" y2="1052.80" stroke="#000" stroke-width="2.70"/>
<line x1="384.70" y1="1040.40" x2="384.70" y2="1046.90" stroke="#000" stroke-width="2.70"/>
<line x1="410.21" y1="1040.40" x2="410.21" y2="1046.90" stroke="#000" stroke-width="2.70"/>
<line x1="435.72" y1="1040.40" x2="435.72" y2="1046.90" stroke="#000" stroke-width="2.70"/>
<line x1="461.23" y1="1040.40" x2="461.23" y2="1046.90" stroke="#000" stroke-width="2.70"/>
<line x1="486.74" y1="1040.40" x2="486.74" y2="1052.80" stroke="#000" stroke-width="2.70"/>
<line x1="512.25" y1="1040.40" x2="512.25" y2="1046.90" stroke="#000" stroke-width="2.70"/>
<line x1="537.76" y1="1040.40" x2="537.76" y2="1046.90" stroke="#000" stroke-width="2.70"/>
<line x1="563.27" y1="1040.40" x2="563.27" y2="1046.90" stroke="#000" stroke-width="2.70"/>
<line x1="588.78" y1="1040.40" x2="588.78" y2="1046.90" stroke="#000" stroke-width="2.70"/>
<line x1="614.28" y1="1040.40" x2="614.28" y2="1052.80" stroke="#000" stroke-width="2.70"/>
<line x1="639.79" y1="1040.40" x2="639.79" y2="1046.90" stroke="#000" stroke-width="2.70"/>
<line x1="665.30" y1="1040.40" x2="665.30" y2="1046.90" stroke="#000" stroke-width="2.70"/>
<line x1="690.81" y1="1040.40" x2="690.81" y2="1046.90" stroke="#000" stroke-width="2.70"/>
<line x1="716.32" y1="1040.40" x2="716.32" y2="1046.90" stroke="#000" stroke-width="2.70"/>
<line x1="741.83" y1="1040.40" x2="741.83" y2="1052.80" stroke="#000" stroke-width="2.70"/>
<line x1="767.34" y1="1040.40" x2="767.34" y2="1046.90" stroke="#000" stroke-width="2.70"/>
<line x1="792.85" y1="1040.40" x2="792.85" y2="1046.90" stroke="#000" stroke-width="2.70"/>
<line x1="818.36" y1="1040.40" x2="818.36" y2="1046.90" stroke="#000" stroke-width="2.70"/>
<line x1="843.87" y1="1040.40" x2="843.87" y2="1046.90" stroke="#000" stroke-width="2.70"/>
<line x1="869.38" y1="1040.40" x2="869.38" y2="1052.80" stroke="#000" stroke-width="2.70"/>
<line x1="894.88" y1="1040.40" x2="894.88" y2="1046.90" stroke="#000" stroke-width="2.70"/>
<line x1="920.39" y1="1040.40" x2="920.39" y2="1046.90" stroke="#000" stroke-width="2.70"/>
<line x1="945.90" y1="1040.40" x2="945.90" y2="1046.90" stroke="#000" stroke-width="2.70"/>
<line x1="971.41" y1="1040.40" x2="971.41" y2="1046.90" stroke="#000" stroke-width="2.70"/>
<text x="80.00" y="627.10" font-size="24.20" text-anchor="end" fill="#000" stroke="#000" stroke-width="0.35" font-weight="normal" textLength="42.20" lengthAdjust="spacingAndGlyphs">100</text>
<text x="80.00" y="1047.40" font-size="24.20" text-anchor="end" fill="#000" stroke="#000" stroke-width="0.35" font-weight="normal">0</text>
<text x="128.10" y="641.30" font-size="25.00" text-anchor="start" fill="#000" stroke="#000" stroke-width="0.35" font-weight="normal">C 12</text>
<text transform="translate(20.5,829.7) rotate(-90)" font-size="25.00" text-anchor="middle" stroke="#000" stroke-width="0.35">Abundance</text>
<text x="231.20" y="1082.30" font-size="24.20" text-anchor="middle" fill="#000" stroke="#000" stroke-width="0.35" font-weight="normal" textLength="77.37" lengthAdjust="spacingAndGlyphs">26,000</text>
<text x="486.20" y="1082.30" font-size="24.20" text-anchor="middle" fill="#000" stroke="#000" stroke-width="0.35" font-weight="normal" textLength="77.37" lengthAdjust="spacingAndGlyphs">27,000</text>
<text x="741.70" y="1082.30" font-size="24.20" text-anchor="middle" fill="#000" stroke="#000" stroke-width="0.35" font-weight="normal" textLength="77.37" lengthAdjust="spacingAndGlyphs">28,000</text>
<text x="970.50" y="1082.00" font-size="25.00" text-anchor="start" fill="#000" stroke="#000" stroke-width="0.35" font-weight="normal">Da</text>
<polyline points="231.50,1039.30 233.00,1039.30 233.20,1039.21 233.50,1038.64 234.40,1035.78 234.60,1035.46 234.80,1035.37 235.60,1035.37 235.70,1035.40 235.90,1035.65 236.20,1036.41 236.90,1038.72 237.10,1039.13 237.30,1039.30 242.90,1039.30 243.10,1039.18 243.30,1038.91 244.00,1037.36 244.30,1036.85 244.60,1036.66 245.40,1036.66 245.60,1036.72 245.90,1037.11 246.80,1039.02 247.00,1039.24 247.20,1039.30 252.00,1039.29 252.20,1039.15 252.40,1038.88 253.30,1037.15 253.50,1036.97 253.70,1036.92 254.50,1036.92 254.70,1037.01 255.00,1037.40 255.80,1038.97 256.00,1039.21 256.20,1039.30 263.90,1039.29 264.30,1039.04 265.00,1038.17 265.30,1037.90 265.50,1037.83 266.30,1037.83 266.60,1037.88 266.80,1038.02 267.70,1039.10 268.10,1039.30 279.40,1039.30 279.50,1039.05 279.60,1037.08 279.80,1027.53 280.70,940.23 281.00,921.94 281.10,919.38 281.20,918.75 282.00,918.75 282.10,919.38 282.30,926.38 282.60,949.20 283.30,1020.27 283.60,1037.08 283.70,1039.05 283.80,1039.30 288.80,1039.30 288.90,1039.21 289.10,1038.65 289.30,1037.64 290.10,1032.21 290.30,1031.41 290.40,1031.19 290.60,1031.10 291.40,1031.11 291.60,1031.50 291.90,1032.95 292.60,1037.81 292.80,1038.76 293.00,1039.25 293.10,1039.30 299.80,1039.30 300.00,1038.75 300.20,1037.36 301.10,1027.14 301.30,1025.79 301.40,1025.42 301.50,1025.28 301.60,1025.28 302.40,1025.31 302.60,1025.99 302.90,1028.49 303.70,1037.69 303.90,1038.93 304.00,1039.23 304.10,1039.30 312.40,1039.27 312.60,1038.91 312.80,1038.17 313.70,1033.45 313.90,1032.91 314.00,1032.80 314.10,1032.78 314.90,1032.78 315.10,1033.00 315.40,1034.05 316.20,1038.37 316.40,1039.03 316.60,1039.30 321.10,1039.27 321.30,1039.02 321.50,1038.58 322.20,1036.40 322.50,1035.78 322.70,1035.63 323.50,1035.63 323.70,1035.68 323.90,1035.96 324.80,1038.61 325.00,1039.04 325.20,1039.27 330.80,1039.30 330.90,1039.27 331.00,1039.12 331.30,1038.03 332.20,1032.74 332.40,1032.15 332.50,1032.02 332.60,1032.01 333.40,1032.01 333.60,1032.26 333.90,1033.43 334.70,1038.27 334.90,1039.00 335.10,1039.30 349.00,1039.29 349.40,1039.05 350.30,1037.98 350.50,1037.86 350.70,1037.83 351.50,1037.83 351.80,1037.93 352.80,1039.08 353.20,1039.30 358.40,1039.29 358.60,1038.38 358.80,1036.10 359.70,1019.47 359.90,1017.28 360.00,1016.70 360.10,1016.48 360.20,1016.48 360.90,1016.48 361.00,1016.54 361.20,1017.66 361.50,1021.76 362.20,1035.28 362.40,1037.88 362.60,1039.19 362.70,1039.30 367.70,1039.30 367.80,1038.89 367.90,1037.81 368.10,1033.79 368.80,1009.41 369.10,1000.92 369.30,997.97 369.40,997.48 369.50,997.47 370.20,997.47 370.30,997.52 370.50,999.41 370.80,1006.72 371.60,1034.25 371.80,1038.06 371.90,1039.02 372.00,1039.30 379.00,1039.29 379.20,1039.07 379.40,1038.60 380.30,1035.46 380.50,1035.09 380.70,1034.98 381.50,1034.98 381.60,1035.01 381.80,1035.27 382.10,1036.09 382.80,1038.63 383.10,1039.23 383.30,1039.30 387.10,1039.30 387.30,1039.12 387.50,1038.62 388.50,1034.51 388.70,1034.14 388.90,1034.08 389.70,1034.08 389.90,1034.31 390.20,1035.22 390.90,1038.32 391.10,1038.94 391.30,1039.26 400.50,1039.30 400.60,1039.23 400.80,1037.81 401.00,1034.71 401.90,1013.88 402.10,1011.39 402.20,1010.80 402.30,1010.66 403.10,1010.66 403.20,1010.83 403.40,1012.52 403.70,1017.98 404.40,1034.85 404.60,1037.89 404.80,1039.25 404.90,1039.30 409.90,1039.30 410.10,1039.23 410.30,1038.79 410.50,1038.00 411.20,1034.13 411.50,1033.04 411.70,1032.78 412.50,1032.78 412.70,1032.89 412.90,1033.39 413.90,1038.52 414.10,1039.11 414.30,1039.30 416.60,1039.27 417.00,1038.91 417.80,1037.77 418.00,1037.62 418.20,1037.57 419.10,1037.58 419.30,1037.67 419.60,1038.00 420.30,1039.02 420.50,1039.21 420.70,1039.30 427.80,1039.30 427.90,1039.05 428.00,1038.19 428.20,1034.77 429.20,1005.09 429.40,1002.22 429.50,1001.66 429.60,1001.61 430.40,1001.62 430.50,1002.05 430.60,1003.09 430.90,1009.40 431.70,1034.31 431.90,1037.94 432.00,1038.92 432.10,1039.30 437.00,1039.30 437.10,1039.22 437.30,1038.66 437.50,1037.61 438.20,1032.52 438.50,1031.06 438.70,1030.72 439.50,1030.71 439.60,1030.72 439.70,1030.84 439.90,1031.49 440.20,1033.27 440.80,1037.68 441.00,1038.70 441.20,1039.24 441.30,1039.30 446.80,1039.30 446.90,1038.80 447.00,1034.83 447.20,1015.61 448.10,839.89 448.40,803.07 448.50,797.93 448.60,796.65 449.40,796.65 449.50,797.93 449.70,812.00 450.00,857.95 450.70,1001.00 451.00,1034.83 451.10,1038.80 451.20,1039.30 456.70,1039.28 456.90,1038.80 457.10,1037.70 458.00,1030.13 458.20,1029.20 458.30,1028.96 458.40,1028.90 459.20,1028.90 459.30,1028.95 459.50,1029.53 459.80,1031.48 460.50,1037.62 460.70,1038.75 460.90,1039.27 467.30,1039.27 467.50,1038.02 467.70,1035.12 468.60,1014.72 468.80,1012.16 468.90,1011.51 469.00,1011.31 469.80,1011.31 469.90,1011.41 470.10,1012.92 470.40,1018.10 471.10,1034.64 471.30,1037.73 471.50,1039.21 471.60,1039.30 479.70,1039.29 479.80,1038.93 479.90,1038.04 480.10,1034.87 481.00,1011.44 481.20,1008.33 481.30,1007.49 481.40,1007.17 481.50,1007.17 482.20,1007.17 482.30,1007.23 482.50,1008.79 482.80,1014.52 483.60,1035.61 483.80,1038.44 483.90,1039.13 484.00,1039.30 491.40,1039.29 491.60,1039.11 491.80,1038.77 492.70,1036.57 492.90,1036.33 493.10,1036.27 493.90,1036.28 494.10,1036.38 494.40,1036.87 495.20,1038.88 495.40,1039.18 495.60,1039.30 502.20,1039.30 502.30,1039.11 502.40,1038.63 502.60,1036.86 503.30,1026.19 503.60,1022.50 503.80,1021.22 503.90,1021.02 504.00,1021.01 504.80,1021.04 505.00,1021.88 505.30,1025.09 506.10,1037.12 506.30,1038.77 506.40,1039.18 506.50,1039.30 510.40,1039.30 510.50,1039.29 510.60,1039.14 510.80,1038.32 511.00,1036.91 511.80,1029.63 512.00,1028.60 512.10,1028.34 512.20,1028.25 513.10,1028.29 513.30,1028.87 513.60,1030.90 514.30,1037.43 514.50,1038.66 514.70,1039.26 514.80,1039.30 521.20,1039.30 521.30,1038.44 521.40,1031.57 521.60,998.36 522.50,694.69 522.80,631.05 522.90,622.16 523.00,619.95 523.80,619.95 523.90,622.16 524.10,646.48 524.40,725.89 525.10,973.10 525.40,1031.57 525.50,1038.44 525.60,1039.30 531.40,1039.30 531.50,1039.16 531.70,1037.60 531.90,1034.47 532.80,1014.66 533.00,1012.47 533.10,1012.02 533.20,1011.96 534.00,1011.96 534.10,1012.22 534.20,1012.92 534.50,1017.37 535.30,1035.48 535.50,1038.20 535.70,1039.29 541.70,1039.30 541.80,1039.25 542.00,1036.22 542.20,1028.91 543.10,976.54 543.30,969.81 543.40,968.05 543.50,967.46 543.60,967.46 544.30,967.46 544.40,967.67 544.60,971.38 544.90,984.46 545.60,1026.97 545.90,1037.59 546.00,1039.01 546.10,1039.30 553.90,1039.30 554.00,1039.24 554.20,1038.43 554.40,1036.78 555.30,1026.14 555.50,1024.94 555.60,1024.68 555.70,1024.63 556.50,1024.63 556.60,1024.75 556.80,1025.70 557.10,1028.58 557.80,1037.18 558.00,1038.67 558.20,1039.29 562.40,1039.30 562.50,1039.29 562.60,1039.18 562.80,1038.54 563.00,1037.44 563.60,1033.00 563.90,1031.32 564.10,1030.78 564.20,1030.71 565.00,1030.71 565.10,1030.74 565.20,1030.90 565.40,1031.61 566.30,1037.85 566.50,1038.81 566.70,1039.27 572.40,1039.30 572.50,1039.23 572.60,1038.93 572.90,1036.69 573.80,1025.77 574.00,1024.55 574.10,1024.29 574.20,1024.25 575.00,1024.25 575.10,1024.38 575.20,1024.75 575.50,1027.17 576.30,1037.15 576.50,1038.67 576.70,1039.29 580.90,1039.29 581.10,1039.07 581.30,1038.62 582.20,1035.67 582.40,1035.33 582.60,1035.24 583.40,1035.24 583.50,1035.27 583.70,1035.52 584.00,1036.31 584.70,1038.70 584.90,1039.12 585.10,1039.30 590.30,1039.29 590.50,1038.26 590.70,1035.67 591.60,1016.77 591.80,1014.29 591.90,1013.63 592.00,1013.38 592.10,1013.38 592.80,1013.38 592.90,1013.44 593.10,1014.71 593.40,1019.37 594.10,1034.72 594.30,1037.68 594.50,1039.17 594.60,1039.30 599.90,1039.30 600.00,1039.09 600.10,1037.42 600.30,1029.35 601.20,955.52 601.50,940.05 601.60,937.89 601.70,937.35 602.50,937.35 602.60,937.89 602.80,943.80 603.10,963.11 603.80,1023.21 604.10,1037.42 604.20,1039.09 604.30,1039.30 610.80,1039.30 610.90,1039.24 611.10,1038.05 611.30,1035.48 612.20,1018.22 612.40,1016.17 612.50,1015.69 612.60,1015.58 613.40,1015.58 613.50,1015.72 613.70,1017.13 614.00,1021.66 614.70,1035.63 614.90,1038.15 615.10,1039.26 621.20,1039.30 621.30,1039.13 621.50,1037.90 621.70,1035.64 622.40,1024.63 622.70,1021.50 622.90,1020.76 623.70,1020.75 623.80,1020.77 623.90,1021.04 624.10,1022.43 625.10,1037.03 625.30,1038.73 625.40,1039.17 625.50,1039.30 632.30,1039.28 632.70,1038.95 633.50,1037.81 633.70,1037.64 634.00,1037.57 634.80,1037.57 635.00,1037.65 635.30,1037.95 636.00,1038.98 636.40,1039.29 641.80,1039.29 642.00,1039.16 642.20,1038.89 643.10,1037.17 643.30,1036.97 643.50,1036.92 644.30,1036.92 644.60,1037.09 644.90,1037.56 645.50,1038.79 645.70,1039.09 645.90,1039.27 647.20,1039.30 647.30,1039.20 647.40,1038.92 647.60,1037.89 648.30,1031.61 648.60,1029.42 648.80,1028.65 648.90,1028.52 649.00,1028.51 649.80,1028.53 650.00,1029.00 650.30,1030.88 651.10,1037.98 651.30,1038.97 651.40,1039.22 651.50,1039.30 658.60,1039.29 658.80,1038.97 659.00,1038.30 659.90,1033.74 660.10,1033.20 660.30,1033.04 661.20,1033.08 661.40,1033.45 661.70,1034.64 662.40,1038.33 662.60,1038.99 662.80,1039.29 669.70,1039.30 669.80,1038.98 669.90,1036.48 670.10,1024.35 671.00,913.45 671.30,890.21 671.40,886.97 671.50,886.16 672.30,886.16 672.40,886.97 672.60,895.85 672.90,924.85 673.60,1015.13 673.90,1036.48 674.00,1038.98 674.10,1039.30 680.20,1039.30 680.30,1039.29 680.40,1039.06 680.60,1037.67 680.80,1035.22 681.60,1022.28 681.80,1020.41 681.90,1019.90 682.00,1019.72 682.10,1019.72 682.90,1019.76 683.10,1020.73 683.40,1024.24 684.10,1035.84 684.30,1038.08 684.50,1039.20 684.60,1039.30 690.40,1039.27 690.60,1037.82 690.80,1034.37 691.70,1009.82 691.90,1006.69 692.00,1005.88 692.10,1005.62 692.90,1005.62 693.00,1005.73 693.20,1007.50 693.50,1013.67 694.20,1033.59 694.50,1038.53 694.60,1039.17 694.70,1039.30 701.30,1039.27 701.50,1038.90 701.70,1038.13 702.60,1033.12 702.80,1032.54 702.90,1032.42 703.00,1032.39 703.80,1032.39 703.90,1032.45 704.10,1032.88 704.40,1034.23 705.10,1038.29 705.30,1039.00 705.50,1039.29 711.60,1039.30 711.80,1038.97 712.00,1038.12 712.90,1031.86 713.10,1031.03 713.20,1030.80 713.40,1030.71 714.20,1030.73 714.40,1031.14 714.70,1032.67 715.50,1038.31 715.70,1039.07 715.80,1039.25 715.90,1039.30 721.20,1039.30 721.40,1039.21 721.60,1038.69 721.80,1037.75 722.60,1032.76 722.80,1032.03 722.90,1031.83 723.10,1031.75 723.90,1031.76 724.10,1032.12 724.40,1033.46 725.20,1038.42 725.40,1039.09 725.50,1039.26 725.60,1039.30 733.20,1039.30 733.40,1039.18 733.60,1038.89 734.30,1037.12 734.60,1036.51 734.80,1036.31 735.00,1036.27 735.80,1036.28 736.00,1036.42 736.30,1036.96 737.00,1038.75 737.20,1039.10 737.40,1039.28 743.90,1039.30 744.00,1039.18 744.10,1038.20 744.30,1033.48 745.20,990.28 745.50,981.23 745.60,979.96 745.70,979.65 746.50,979.65 746.60,979.96 746.80,983.42 747.10,994.72 747.80,1029.88 748.10,1038.20 748.20,1039.18 748.30,1039.30 754.40,1039.30 754.50,1039.20 754.70,1038.48 754.90,1037.13 755.70,1029.72 756.00,1028.27 756.10,1028.13 756.20,1028.13 757.00,1028.14 757.20,1028.62 757.50,1030.54 758.20,1037.17 758.40,1038.51 758.60,1039.21 758.70,1039.30 765.00,1039.30 765.10,1039.17 765.20,1038.75 765.40,1037.13 766.40,1023.35 766.60,1022.05 766.70,1021.80 766.80,1021.79 767.60,1021.80 767.80,1022.51 768.10,1025.48 768.90,1037.04 769.10,1038.70 769.20,1039.14 769.30,1039.30 775.00,1039.30 775.20,1039.18 775.40,1038.91 776.10,1037.36 776.40,1036.85 776.70,1036.66 777.50,1036.66 777.70,1036.72 777.90,1036.94 778.80,1038.86 779.00,1039.15 779.20,1039.29 787.90,1039.30 788.10,1039.11 788.30,1038.56 789.10,1034.69 789.40,1033.68 789.60,1033.43 790.40,1033.43 790.60,1033.51 790.80,1033.94 791.80,1038.56 792.00,1039.11 792.20,1039.30 805.40,1039.30 805.80,1039.08 806.70,1038.01 806.90,1037.87 807.10,1037.83 808.00,1037.83 808.20,1037.91 808.50,1038.18 809.20,1039.06 809.60,1039.30 818.20,1039.30 818.30,1039.26 818.40,1038.92 818.60,1037.26 819.50,1022.17 819.80,1019.00 819.90,1018.56 820.00,1018.45 820.80,1018.45 820.90,1018.56 821.10,1019.77 821.40,1023.72 822.10,1036.01 822.30,1038.24 822.50,1039.26 822.60,1039.30 829.10,1039.28 829.30,1039.05 829.50,1038.57 830.20,1036.02 830.50,1035.22 830.70,1035.00 831.60,1034.98 831.80,1035.12 832.00,1035.52 832.90,1038.66 833.10,1039.11 833.30,1039.30 839.30,1039.29 839.50,1038.97 839.70,1038.26 840.40,1034.35 840.70,1033.08 840.90,1032.69 841.80,1032.65 841.90,1032.69 842.00,1032.82 842.20,1033.40 843.10,1038.24 843.30,1038.96 843.50,1039.28 850.10,1039.29 850.50,1039.03 851.20,1038.23 851.50,1038.01 851.70,1037.96 852.50,1037.96 852.90,1038.08 853.80,1039.05 854.20,1039.29 858.00,1039.30" fill="none" stroke="#000" stroke-width="1.70" stroke-linejoin="round"/>
<polyline points="231.50,1039.30 238.00,1039.27 238.20,1038.65 238.40,1037.29 239.30,1028.03 239.50,1026.91 239.60,1026.64 239.70,1026.57 240.50,1026.57 240.60,1026.64 240.80,1027.38 241.10,1029.79 241.80,1037.30 242.00,1038.66 242.20,1039.27 247.50,1039.27 247.70,1039.07 247.90,1038.70 248.60,1036.91 248.90,1036.40 249.10,1036.28 249.90,1036.27 250.10,1036.32 250.30,1036.55 251.30,1038.93 251.50,1039.21 251.70,1039.30 254.90,1039.27 255.30,1038.92 256.10,1037.78 256.30,1037.62 256.50,1037.57 257.40,1037.57 257.60,1037.67 257.90,1037.98 258.60,1039.01 258.80,1039.20 259.00,1039.29 274.40,1039.30 274.50,1039.27 274.60,1039.11 274.90,1037.92 275.60,1033.22 275.90,1031.78 276.10,1031.38 277.00,1031.36 277.20,1031.63 277.40,1032.38 278.20,1037.62 278.40,1038.62 278.60,1039.19 278.70,1039.30 278.80,1039.30 284.10,1039.30 284.20,1039.17 284.30,1038.53 284.60,1033.81 285.50,1010.69 285.70,1008.09 285.80,1007.52 285.90,1007.43 286.70,1007.43 286.80,1007.70 287.00,1009.76 287.30,1016.02 288.00,1034.71 288.20,1037.95 288.40,1039.28 295.20,1039.29 295.40,1039.15 295.60,1038.88 296.30,1037.47 296.60,1037.05 296.80,1036.93 297.70,1036.92 297.90,1037.00 298.10,1037.23 298.90,1038.80 299.10,1039.10 299.30,1039.27 304.30,1039.30 304.50,1039.20 304.70,1038.90 305.50,1036.74 305.80,1036.17 306.00,1036.02 306.80,1036.02 307.00,1036.06 307.20,1036.29 308.20,1038.87 308.40,1039.18 308.60,1039.30 316.70,1039.28 316.90,1039.10 317.10,1038.79 317.90,1037.04 318.20,1036.70 318.40,1036.66 319.20,1036.67 319.40,1036.78 319.70,1037.24 320.40,1038.80 320.60,1039.11 320.80,1039.28 326.20,1039.29 326.40,1038.52 326.60,1036.69 327.30,1026.18 327.60,1022.68 327.80,1021.54 327.90,1021.40 328.70,1021.40 328.80,1021.46 328.90,1021.78 329.10,1023.26 330.00,1036.25 330.20,1038.26 330.40,1039.23 330.50,1039.30 336.30,1039.30 336.70,1039.09 337.70,1038.05 338.00,1037.96 338.80,1037.96 339.20,1038.10 340.10,1039.08 340.50,1039.30 353.70,1039.30 353.80,1039.14 353.90,1037.84 354.10,1031.54 355.00,974.01 355.30,961.95 355.40,960.27 355.50,959.85 356.30,959.85 356.40,960.27 356.60,964.88 356.90,979.92 357.60,1026.76 357.90,1037.84 358.00,1039.14 358.10,1039.30 363.10,1039.30 363.20,1039.29 363.30,1039.12 363.50,1038.24 363.70,1036.74 364.50,1029.04 364.70,1027.97 364.80,1027.69 364.90,1027.61 365.80,1027.65 366.00,1028.28 366.30,1030.44 367.00,1037.35 367.30,1039.04 367.40,1039.26 367.50,1039.30 373.30,1039.30 373.40,1039.30 373.50,1039.17 373.70,1038.37 373.90,1036.95 374.70,1029.40 374.90,1028.29 375.00,1027.99 375.10,1027.87 375.20,1027.87 376.00,1027.89 376.20,1028.44 376.50,1030.47 377.30,1037.98 377.50,1038.99 377.60,1039.24 377.70,1039.30 383.60,1039.26 383.80,1039.07 384.00,1038.74 384.80,1037.00 385.00,1036.75 385.20,1036.66 386.10,1036.67 386.30,1036.81 386.60,1037.28 387.30,1038.84 387.50,1039.14 387.70,1039.29 395.40,1039.30 395.80,1039.09 396.70,1038.02 396.90,1037.88 397.10,1037.83 398.00,1037.83 398.20,1037.91 398.50,1038.17 399.20,1039.05 399.60,1039.29 405.50,1039.26 405.70,1037.89 405.90,1034.71 406.80,1012.43 407.00,1009.64 407.10,1008.94 407.20,1008.72 408.00,1008.72 408.10,1008.84 408.30,1010.50 408.60,1016.16 409.30,1034.23 409.60,1038.64 409.70,1039.20 409.80,1039.30 411.90,1039.30 412.10,1039.21 412.40,1038.67 413.30,1036.01 413.50,1035.70 413.70,1035.63 414.50,1035.63 414.60,1035.66 414.80,1035.89 415.10,1036.62 415.80,1038.77 416.00,1039.14 416.20,1039.30 422.50,1039.27 422.70,1039.10 422.90,1038.80 423.70,1037.23 423.90,1037.00 424.20,1036.92 425.00,1036.93 425.20,1037.04 425.50,1037.47 426.20,1038.88 426.40,1039.15 426.60,1039.29 432.50,1039.29 432.70,1038.65 432.90,1037.15 433.80,1026.46 434.00,1025.10 434.10,1024.75 434.20,1024.63 435.00,1024.63 435.10,1024.68 435.30,1025.45 435.60,1028.14 436.30,1036.82 436.50,1038.46 436.70,1039.25 436.80,1039.30 442.00,1039.30 442.10,1039.06 442.20,1037.67 442.40,1031.32 443.30,975.43 443.60,964.09 443.70,962.59 443.80,962.28 444.60,962.28 444.70,962.81 444.90,967.54 445.20,982.41 445.90,1027.70 446.20,1038.08 446.30,1039.20 446.40,1039.30 451.60,1039.30 451.70,1038.85 451.90,1034.62 452.10,1026.46 453.00,976.13 453.20,970.80 453.30,969.76 453.40,969.66 454.20,969.68 454.30,970.47 454.40,972.37 454.70,984.00 455.50,1030.04 455.70,1036.77 455.80,1038.59 455.90,1039.29 462.50,1039.29 462.70,1038.74 462.90,1037.37 463.70,1028.25 464.00,1026.02 464.10,1025.67 464.20,1025.54 465.00,1025.54 465.10,1025.57 465.20,1025.80 465.40,1026.91 466.30,1036.88 466.60,1038.95 466.70,1039.23 466.80,1039.30 475.00,1039.30 475.10,1039.25 475.30,1038.60 475.50,1037.30 476.40,1029.01 476.60,1028.09 476.70,1027.89 476.80,1027.87 477.60,1027.87 477.70,1027.97 477.80,1028.26 478.10,1030.11 478.90,1037.69 479.10,1038.83 479.30,1039.29 484.40,1039.30 484.60,1039.20 484.80,1038.69 485.00,1037.80 485.80,1033.25 486.00,1032.61 486.20,1032.39 487.10,1032.42 487.30,1032.78 487.60,1034.05 488.30,1038.13 488.50,1038.90 488.70,1039.27 497.70,1039.29 497.90,1039.11 498.10,1038.69 498.80,1036.30 499.10,1035.52 499.30,1035.27 499.40,1035.24 500.20,1035.24 500.40,1035.33 500.60,1035.68 501.50,1038.63 501.70,1039.08 501.90,1039.29 506.50,1039.29 506.70,1038.91 506.90,1038.04 507.80,1032.07 508.00,1031.33 508.10,1031.15 508.20,1031.10 509.10,1031.14 509.30,1031.59 509.60,1033.13 510.30,1037.97 510.50,1038.86 510.70,1039.28 516.30,1039.29 516.40,1038.74 516.50,1037.33 516.70,1032.10 517.50,996.49 517.80,987.52 517.90,986.05 518.00,985.45 518.80,985.44 518.90,985.52 519.00,986.33 519.20,990.47 520.10,1029.41 520.30,1035.70 520.50,1038.96 520.60,1039.30 525.60,1039.30 525.70,1039.02 525.80,1036.78 526.00,1025.93 526.90,926.76 527.20,905.98 527.30,903.07 527.40,902.35 528.20,902.35 528.30,903.07 528.50,911.01 528.80,936.95 529.50,1017.68 529.80,1036.78 529.90,1039.02 530.00,1039.30 536.80,1039.30 536.90,1039.25 537.10,1037.91 537.30,1034.87 538.20,1014.02 538.40,1011.46 538.50,1010.83 538.60,1010.66 539.40,1010.66 539.50,1010.80 539.70,1012.41 540.00,1017.79 540.70,1034.68 541.00,1038.74 541.10,1039.23 541.20,1039.30 546.30,1039.30 546.40,1039.15 546.60,1038.00 546.80,1035.88 547.60,1024.19 547.90,1021.89 548.00,1021.67 548.10,1021.66 548.90,1021.67 549.10,1022.43 549.40,1025.47 550.20,1037.10 550.40,1038.74 550.50,1039.16 550.60,1039.30 558.90,1039.29 559.10,1039.00 559.30,1038.40 560.20,1034.31 560.40,1033.83 560.60,1033.69 561.50,1033.72 561.70,1034.06 562.00,1035.13 562.70,1038.43 562.90,1039.03 563.10,1039.29 568.60,1039.29 568.80,1039.08 569.00,1038.61 569.70,1036.06 570.00,1035.25 570.20,1035.00 571.10,1034.98 571.30,1035.10 571.50,1035.48 572.30,1038.32 572.50,1038.89 572.70,1039.22 572.90,1039.30 576.70,1039.30 576.90,1039.11 577.10,1038.58 577.90,1034.87 578.20,1033.92 578.40,1033.69 579.20,1033.69 579.40,1033.77 579.70,1034.52 580.50,1038.24 580.70,1038.90 580.90,1039.26 581.00,1039.30 584.10,1039.29 584.30,1038.99 584.50,1038.26 585.40,1033.04 585.60,1032.37 585.80,1032.14 586.70,1032.16 586.90,1032.53 587.20,1033.84 587.90,1038.08 588.10,1038.88 588.30,1039.27 595.20,1039.30 595.30,1038.65 595.40,1033.48 595.60,1008.49 596.50,780.01 596.80,732.13 596.90,725.44 597.00,723.78 597.80,723.78 597.90,725.44 598.10,743.74 598.40,803.49 599.10,989.49 599.40,1033.48 599.50,1038.65 599.60,1039.30 606.00,1039.30 606.10,1039.26 606.30,1037.79 606.50,1034.42 607.40,1011.01 607.60,1008.11 607.70,1007.38 607.80,1007.17 608.60,1007.17 608.70,1007.30 608.90,1009.08 609.20,1015.06 609.90,1034.04 610.10,1037.56 610.30,1039.21 610.40,1039.30 616.10,1039.30 616.20,1039.17 616.40,1036.24 616.60,1029.82 617.50,986.39 617.70,981.17 617.80,979.92 617.90,979.62 618.70,979.62 618.80,979.94 619.00,983.43 619.30,994.77 620.00,1029.94 620.30,1038.22 620.40,1039.18 620.50,1039.30 627.00,1039.30 627.10,1039.24 627.30,1038.61 627.50,1037.38 628.40,1029.77 628.60,1028.95 628.70,1028.79 628.80,1028.77 629.60,1028.77 629.80,1029.17 630.10,1030.92 630.80,1037.17 631.00,1038.47 631.20,1039.19 631.30,1039.30 636.70,1039.30 636.80,1039.22 636.90,1038.91 637.20,1036.76 638.10,1026.62 638.30,1025.52 638.40,1025.30 638.50,1025.28 639.30,1025.28 639.40,1025.43 639.50,1025.80 639.80,1028.12 640.60,1037.40 640.80,1038.77 641.00,1039.30 642.30,1039.30 642.50,1039.20 642.80,1038.80 643.60,1037.23 643.80,1037.01 644.10,1036.92 644.90,1036.93 645.10,1037.04 645.40,1037.47 646.10,1038.88 646.30,1039.15 646.50,1039.29 651.90,1039.29 652.10,1039.13 652.30,1038.83 653.00,1037.27 653.30,1036.80 653.50,1036.67 654.30,1036.66 654.60,1036.76 654.80,1037.01 655.70,1038.93 655.90,1039.20 656.10,1039.30 664.60,1039.30 664.70,1039.26 664.80,1039.06 665.10,1037.60 666.00,1030.53 666.20,1029.74 666.30,1029.57 666.40,1029.55 667.20,1029.55 667.30,1029.64 667.40,1029.88 667.70,1031.45 668.50,1037.91 668.70,1038.89 668.90,1039.29 674.60,1039.29 674.70,1038.69 674.80,1037.16 675.00,1031.55 675.70,997.92 676.00,986.31 676.20,982.33 676.30,981.70 676.40,981.69 677.10,981.69 677.20,981.78 677.40,984.46 677.70,994.62 678.50,1032.50 678.70,1037.67 678.80,1038.95 678.90,1039.30 685.10,1039.29 685.30,1038.68 685.50,1037.25 686.40,1027.23 686.60,1025.96 686.70,1025.64 686.80,1025.54 687.60,1025.54 687.70,1025.59 687.90,1026.33 688.20,1028.86 688.90,1037.00 689.20,1039.00 689.30,1039.25 689.40,1039.30 695.40,1039.30 695.50,1039.23 695.70,1038.61 695.90,1037.39 696.80,1029.87 697.00,1029.07 697.10,1028.92 697.20,1028.90 698.00,1028.90 698.20,1029.30 698.50,1031.04 699.30,1037.91 699.50,1038.92 699.70,1039.30 706.20,1039.28 706.40,1038.91 706.60,1038.10 707.30,1033.65 707.60,1032.22 707.80,1031.79 708.70,1031.75 708.80,1031.79 708.90,1031.95 709.10,1032.62 710.00,1038.12 710.20,1038.92 710.40,1039.29 716.40,1039.29 716.60,1038.98 716.80,1038.23 717.50,1033.95 717.80,1032.53 718.00,1032.06 718.10,1032.01 718.90,1032.01 719.00,1032.03 719.10,1032.16 719.30,1032.77 720.20,1038.06 720.50,1039.13 720.60,1039.27 720.70,1039.30 728.50,1039.29 728.90,1039.04 729.70,1038.15 730.00,1037.97 730.20,1037.96 731.00,1037.96 731.20,1038.02 731.50,1038.25 732.20,1039.04 732.60,1039.29 738.90,1039.30 739.10,1039.16 739.30,1038.83 740.20,1036.44 740.40,1036.13 740.50,1036.05 740.70,1036.02 741.50,1036.02 741.70,1036.19 742.00,1036.78 742.70,1038.73 742.90,1039.10 743.10,1039.28 748.70,1039.30 748.80,1039.15 748.90,1038.66 749.10,1036.74 750.10,1020.30 750.30,1018.74 750.40,1018.45 750.50,1018.42 751.30,1018.43 751.50,1019.28 751.80,1022.81 752.60,1036.59 752.80,1038.58 752.90,1039.11 753.00,1039.30 759.50,1039.28 759.70,1038.98 759.90,1038.32 760.60,1034.78 760.90,1033.66 761.10,1033.33 762.00,1033.30 762.20,1033.47 762.40,1034.01 763.30,1038.38 763.50,1039.01 763.70,1039.29 769.40,1039.30 769.60,1039.09 769.80,1038.49 770.60,1034.19 770.90,1033.07 771.10,1032.79 771.90,1032.78 772.10,1032.87 772.30,1033.34 773.30,1038.47 773.50,1039.08 773.70,1039.30 780.20,1039.30 780.60,1039.06 781.30,1038.19 781.60,1037.91 781.80,1037.83 782.70,1037.83 782.90,1037.87 783.10,1038.01 784.00,1039.08 784.40,1039.30 795.40,1039.30 795.60,1039.16 795.80,1038.76 796.60,1035.91 796.90,1035.17 797.10,1034.99 797.90,1034.98 798.10,1035.04 798.30,1035.35 799.30,1038.75 799.50,1039.16 799.70,1039.30 811.90,1039.29 812.10,1039.16 812.30,1038.89 813.00,1037.49 813.30,1037.05 813.50,1036.93 814.40,1036.92 814.60,1037.00 814.80,1037.22 815.70,1038.96 815.90,1039.20 816.10,1039.30 823.20,1039.30 823.30,1039.25 823.40,1039.06 823.60,1038.28 824.40,1032.64 824.70,1031.12 824.90,1030.73 825.70,1030.71 825.80,1030.71 825.90,1030.81 826.10,1031.40 826.40,1033.14 827.10,1038.15 827.30,1038.98 827.50,1039.30 833.90,1039.29 834.10,1039.13 834.30,1038.83 835.00,1037.27 835.30,1036.80 835.50,1036.67 836.30,1036.66 836.60,1036.76 836.80,1037.01 837.60,1038.75 837.80,1039.08 838.00,1039.27 843.80,1039.30 844.00,1039.20 844.20,1038.94 845.00,1037.19 845.30,1036.76 845.50,1036.66 846.30,1036.66 846.50,1036.71 846.70,1036.92 847.60,1038.83 847.80,1039.13 848.00,1039.29 858.00,1039.30" fill="none" stroke="#000" stroke-width="1.70" stroke-linejoin="round"/>
<text x="282.70" y="871.20" font-size="24.20" text-anchor="middle" fill="#FF19FF" stroke="#FF19FF" stroke-width="0.35" font-weight="normal">0</text>
<ellipse cx="282.00" cy="897.05" rx="2.35" ry="17.45" fill="#FF19FF"/>
<text x="355.90" y="914.80" font-size="24.20" text-anchor="middle" fill="#FF19FF" stroke="#FF19FF" stroke-width="0.35" font-weight="normal">1</text>
<ellipse cx="355.70" cy="940.60" rx="2.35" ry="17.40" fill="#FF19FF"/>
<text x="408.00" y="962.70" font-size="24.20" text-anchor="middle" fill="#5E0F9E" stroke="#5E0F9E" stroke-width="0.35" font-weight="normal">1</text>
<ellipse cx="408.60" cy="988.75" rx="2.35" ry="16.95" fill="#5E0F9E"/>
<text x="431.10" y="958.60" font-size="24.20" text-anchor="middle" fill="#FF19FF" stroke="#FF19FF" stroke-width="0.35" font-weight="normal">2</text>
<ellipse cx="430.60" cy="984.05" rx="2.35" ry="17.15" fill="#FF19FF"/>
<text x="481.40" y="964.00" font-size="24.20" text-anchor="middle" fill="#5E0F9E" stroke="#5E0F9E" stroke-width="0.35" font-weight="normal">2</text>
<ellipse cx="481.70" cy="989.85" rx="2.35" ry="17.15" fill="#5E0F9E"/>
<text x="448.00" y="749.10" font-size="24.20" text-anchor="middle" fill="#B3170F" stroke="#B3170F" stroke-width="0.35" font-weight="normal">1</text>
<ellipse cx="448.30" cy="772.20" rx="2.35" ry="17.10" fill="#B3170F"/>
<text x="521.90" y="578.90" font-size="24.20" text-anchor="middle" fill="#B3170F" stroke="#B3170F" stroke-width="0.35" font-weight="normal">2</text>
<ellipse cx="522.60" cy="600.90" rx="2.35" ry="17.10" fill="#B3170F"/>
<text x="596.90" y="681.70" font-size="24.20" text-anchor="middle" fill="#B3170F" stroke="#B3170F" stroke-width="0.35" font-weight="normal">3</text>
<ellipse cx="597.20" cy="703.70" rx="2.35" ry="17.10" fill="#B3170F"/>
<text x="671.10" y="838.60" font-size="24.20" text-anchor="middle" fill="#B3170F" stroke="#B3170F" stroke-width="0.35" font-weight="normal">4</text>
<ellipse cx="671.50" cy="860.60" rx="2.35" ry="17.00" fill="#B3170F"/>
<text x="746.10" y="938.80" font-size="24.20" text-anchor="middle" fill="#B3170F" stroke="#B3170F" stroke-width="0.35" font-weight="normal">5</text>
<ellipse cx="746.50" cy="960.80" rx="2.35" ry="17.10" fill="#B3170F"/>
<text x="821.10" y="977.10" font-size="24.20" text-anchor="middle" fill="#B3170F" stroke="#B3170F" stroke-width="0.35" font-weight="normal">6</text>
<ellipse cx="821.10" cy="1001.85" rx="2.35" ry="16.85" fill="#B3170F"/>
<ellipse cx="106.70" cy="1126.55" rx="3.20" ry="20.65" fill="#FF19FF"/>
<text x="115.50" y="1133.20" font-size="25.00" text-anchor="start" fill="#000" stroke="#000" stroke-width="0.35" font-weight="normal">Hex15HexNAc12F3</text>
<ellipse cx="359.10" cy="1126.55" rx="3.20" ry="20.65" fill="#B3170F"/>
<text x="366.50" y="1133.20" font-size="25.00" text-anchor="start" fill="#000" stroke="#000" stroke-width="0.35" font-weight="normal">Hex16HexNAc13F3</text>
<ellipse cx="608.00" cy="1126.55" rx="3.20" ry="20.65" fill="#7521A8"/>
<text x="617.50" y="1133.20" font-size="25.00" text-anchor="start" fill="#000" stroke="#000" stroke-width="0.35" font-weight="normal">Hex15HexNAc13F3</text>
<text x="1056.80" y="58.50" font-size="42.00" text-anchor="start" fill="#000" stroke="#000" stroke-width="0" font-weight="bold">b</text>
<line x1="1170.30" y1="105.70" x2="1170.30" y2="489.35" stroke="#000" stroke-width="3.50"/>
<line x1="1169.10" y1="487.60" x2="1810.80" y2="487.60" stroke="#000" stroke-width="3.50"/>
<text x="1157.00" y="496.20" font-size="24.20" text-anchor="end" fill="#000" stroke="#000" stroke-width="0.35" font-weight="normal">0</text>
<line x1="1170.30" y1="433.19" x2="1186.50" y2="433.19" stroke="#000" stroke-width="3.4"/>
<text x="1157.00" y="441.79" font-size="24.20" text-anchor="end" fill="#000" stroke="#000" stroke-width="0.35" font-weight="normal">5</text>
<line x1="1170.30" y1="378.77" x2="1186.50" y2="378.77" stroke="#000" stroke-width="3.4"/>
<text x="1157.00" y="387.37" font-size="24.20" text-anchor="end" fill="#000" stroke="#000" stroke-width="0.35" font-weight="normal">10</text>
<line x1="1170.30" y1="324.36" x2="1186.50" y2="324.36" stroke="#000" stroke-width="3.4"/>
<text x="1157.00" y="332.96" font-size="24.20" text-anchor="end" fill="#000" stroke="#000" stroke-width="0.35" font-weight="normal">15</text>
<line x1="1170.30" y1="269.94" x2="1186.50" y2="269.94" stroke="#000" stroke-width="3.4"/>
<text x="1157.00" y="278.54" font-size="24.20" text-anchor="end" fill="#000" stroke="#000" stroke-width="0.35" font-weight="normal">20</text>
<line x1="1170.30" y1="215.53" x2="1186.50" y2="215.53" stroke="#000" stroke-width="3.4"/>
<text x="1157.00" y="224.13" font-size="24.20" text-anchor="end" fill="#000" stroke="#000" stroke-width="0.35" font-weight="normal">25</text>
<line x1="1170.30" y1="161.11" x2="1186.50" y2="161.11" stroke="#000" stroke-width="3.4"/>
<text x="1157.00" y="169.71" font-size="24.20" text-anchor="end" fill="#000" stroke="#000" stroke-width="0.35" font-weight="normal">30</text>
<line x1="1170.30" y1="106.70" x2="1186.50" y2="106.70" stroke="#000" stroke-width="3.4"/>
<text x="1157.00" y="115.30" font-size="24.20" text-anchor="end" fill="#000" stroke="#000" stroke-width="0.35" font-weight="normal">35</text>
<text transform="translate(1107.7,297.0) rotate(-90)" font-size="25.00" text-anchor="middle" stroke="#000" stroke-width="0.35">%</text>
<line x1="1241.40" y1="478.00" x2="1241.40" y2="487.60" stroke="#000" stroke-width="2.6"/>
<rect x="1178.20" y="379.40" width="26.90" height="108.20" fill="#000"/>
<text x="1205.80" y="520.00" font-size="25.00" text-anchor="middle" fill="#000" stroke="#000" stroke-width="0.35" font-weight="normal">0Sia</text>
<line x1="1312.40" y1="478.00" x2="1312.40" y2="487.60" stroke="#000" stroke-width="2.6"/>
<rect x="1249.20" y="241.00" width="26.90" height="246.60" fill="#000"/>
<text x="1276.80" y="520.00" font-size="25.00" text-anchor="middle" fill="#000" stroke="#000" stroke-width="0.35" font-weight="normal">1Sia</text>
<line x1="1383.40" y1="478.00" x2="1383.40" y2="487.60" stroke="#000" stroke-width="2.6"/>
<rect x="1320.20" y="142.10" width="26.90" height="345.50" fill="#000"/>
<rect x="1349.40" y="476.90" width="25.60" height="10.70" fill="#DEDEDE" stroke="#000" stroke-width="1.7"/>
<text x="1347.80" y="520.00" font-size="25.00" text-anchor="middle" fill="#000" stroke="#000" stroke-width="0.35" font-weight="normal">2Sia</text>
<line x1="1454.40" y1="478.00" x2="1454.40" y2="487.60" stroke="#000" stroke-width="2.6"/>
<rect x="1391.20" y="263.90" width="26.90" height="223.70" fill="#000"/>
<rect x="1420.40" y="433.90" width="25.60" height="53.70" fill="#DEDEDE" stroke="#000" stroke-width="1.7"/>
<text x="1418.80" y="520.00" font-size="25.00" text-anchor="middle" fill="#000" stroke="#000" stroke-width="0.35" font-weight="normal">3Sia</text>
<line x1="1525.40" y1="478.00" x2="1525.40" y2="487.60" stroke="#000" stroke-width="2.6"/>
<rect x="1462.20" y="380.60" width="26.90" height="107.00" fill="#000"/>
<rect x="1491.40" y="378.00" width="25.60" height="109.60" fill="#DEDEDE" stroke="#000" stroke-width="1.7"/>
<text x="1489.80" y="520.00" font-size="25.00" text-anchor="middle" fill="#000" stroke="#000" stroke-width="0.35" font-weight="normal">4Sia</text>
<line x1="1596.40" y1="478.00" x2="1596.40" y2="487.60" stroke="#000" stroke-width="2.6"/>
<rect x="1533.20" y="443.30" width="26.90" height="44.30" fill="#000"/>
<rect x="1562.40" y="289.10" width="25.60" height="198.50" fill="#DEDEDE" stroke="#000" stroke-width="1.7"/>
<text x="1560.80" y="520.00" font-size="25.00" text-anchor="middle" fill="#000" stroke="#000" stroke-width="0.35" font-weight="normal">5Sia</text>
<line x1="1667.40" y1="478.00" x2="1667.40" y2="487.60" stroke="#000" stroke-width="2.6"/>
<rect x="1604.20" y="469.70" width="26.90" height="17.90" fill="#000"/>
<rect x="1633.40" y="164.80" width="25.60" height="322.80" fill="#DEDEDE" stroke="#000" stroke-width="1.7"/>
<text x="1631.80" y="520.00" font-size="25.00" text-anchor="middle" fill="#000" stroke="#000" stroke-width="0.35" font-weight="normal">6Sia</text>
<line x1="1738.40" y1="478.00" x2="1738.40" y2="487.60" stroke="#000" stroke-width="2.6"/>
<rect x="1704.40" y="233.80" width="25.60" height="253.80" fill="#DEDEDE" stroke="#000" stroke-width="1.7"/>
<text x="1702.80" y="520.00" font-size="25.00" text-anchor="middle" fill="#000" stroke="#000" stroke-width="0.35" font-weight="normal">7Sia</text>
<line x1="1809.40" y1="478.00" x2="1809.40" y2="487.60" stroke="#000" stroke-width="2.6"/>
<rect x="1775.40" y="350.00" width="25.60" height="137.60" fill="#DEDEDE" stroke="#000" stroke-width="1.7"/>
<text x="1773.80" y="520.00" font-size="25.00" text-anchor="middle" fill="#000" stroke="#000" stroke-width="0.35" font-weight="normal">8Sia</text>
<rect x="1866.9" y="106.5" width="80.0" height="38.2" fill="#DEDEDE" stroke="#000" stroke-width="1.7"/>
<rect x="1866.1" y="162.7" width="81.7" height="40.0" fill="#000"/>
<text x="1957.00" y="137.00" font-size="25.00" text-anchor="start" fill="#000" stroke="#000" stroke-width="0.35" font-weight="normal">C 08</text>
<text x="1957.00" y="194.30" font-size="25.00" text-anchor="start" fill="#000" stroke="#000" stroke-width="0.35" font-weight="normal">C 12</text>
<text x="1057.20" y="587.50" font-size="42.50" text-anchor="start" fill="#000" stroke="#000" stroke-width="0" font-weight="bold">c</text>
<line x1="1161.40" y1="612.80" x2="1161.40" y2="1052.80" stroke="#000" stroke-width="3.00"/>
<line x1="1160.00" y1="1039.65" x2="2004.80" y2="1039.65" stroke="#000" stroke-width="3.00"/>
<line x1="1149.80" y1="1039.10" x2="1161.40" y2="1039.10" stroke="#000" stroke-width="2.60"/>
<line x1="1149.80" y1="613.60" x2="1161.40" y2="613.60" stroke="#000" stroke-width="2.60"/>
<line x1="1149.80" y1="833.00" x2="1161.40" y2="833.00" stroke="#000" stroke-width="2.60"/>
<line x1="1186.86" y1="1039.65" x2="1186.86" y2="1046.90" stroke="#000" stroke-width="2.70"/>
<line x1="1212.37" y1="1039.65" x2="1212.37" y2="1046.90" stroke="#000" stroke-width="2.70"/>
<line x1="1237.88" y1="1039.65" x2="1237.88" y2="1046.90" stroke="#000" stroke-width="2.70"/>
<line x1="1263.39" y1="1039.65" x2="1263.39" y2="1046.90" stroke="#000" stroke-width="2.70"/>
<line x1="1288.90" y1="1039.65" x2="1288.90" y2="1052.80" stroke="#000" stroke-width="2.70"/>
<line x1="1314.41" y1="1039.65" x2="1314.41" y2="1046.90" stroke="#000" stroke-width="2.70"/>
<line x1="1339.92" y1="1039.65" x2="1339.92" y2="1046.90" stroke="#000" stroke-width="2.70"/>
<line x1="1365.43" y1="1039.65" x2="1365.43" y2="1046.90" stroke="#000" stroke-width="2.70"/>
<line x1="1390.94" y1="1039.65" x2="1390.94" y2="1046.90" stroke="#000" stroke-width="2.70"/>
<line x1="1416.44" y1="1039.65" x2="1416.44" y2="1052.80" stroke="#000" stroke-width="2.70"/>
<line x1="1441.95" y1="1039.65" x2="1441.95" y2="1046.90" stroke="#000" stroke-width="2.70"/>
<line x1="1467.46" y1="1039.65" x2="1467.46" y2="1046.90" stroke="#000" stroke-width="2.70"/>
<line x1="1492.97" y1="1039.65" x2="1492.97" y2="1046.90" stroke="#000" stroke-width="2.70"/>
<line x1="1518.48" y1="1039.65" x2="1518.48" y2="1046.90" stroke="#000" stroke-width="2.70"/>
<line x1="1543.99" y1="1039.65" x2="1543.99" y2="1052.80" stroke="#000" stroke-width="2.70"/>
<line x1="1569.50" y1="1039.65" x2="1569.50" y2="1046.90" stroke="#000" stroke-width="2.70"/>
<line x1="1595.01" y1="1039.65" x2="1595.01" y2="1046.90" stroke="#000" stroke-width="2.70"/>
<line x1="1620.52" y1="1039.65" x2="1620.52" y2="1046.90" stroke="#000" stroke-width="2.70"/>
<line x1="1646.03" y1="1039.65" x2="1646.03" y2="1046.90" stroke="#000" stroke-width="2.70"/>
<line x1="1671.54" y1="1039.65" x2="1671.54" y2="1052.80" stroke="#000" stroke-width="2.70"/>
<line x1="1697.04" y1="1039.65" x2="1697.04" y2="1046.90" stroke="#000" stroke-width="2.70"/>
<line x1="1722.55" y1="1039.65" x2="1722.55" y2="1046.90" stroke="#000" stroke-width="2.70"/>
<line x1="1748.06" y1="1039.65" x2="1748.06" y2="1046.90" stroke="#000" stroke-width="2.70"/>
<line x1="1773.57" y1="1039.65" x2="1773.57" y2="1046.90" stroke="#000" stroke-width="2.70"/>
<line x1="1799.08" y1="1039.65" x2="1799.08" y2="1052.80" stroke="#000" stroke-width="2.70"/>
<line x1="1824.59" y1="1039.65" x2="1824.59" y2="1046.90" stroke="#000" stroke-width="2.70"/>
<line x1="1850.10" y1="1039.65" x2="1850.10" y2="1046.90" stroke="#000" stroke-width="2.70"/>
<line x1="1875.61" y1="1039.65" x2="1875.61" y2="1046.90" stroke="#000" stroke-width="2.70"/>
<line x1="1901.12" y1="1039.65" x2="1901.12" y2="1046.90" stroke="#000" stroke-width="2.70"/>
<line x1="1926.62" y1="1039.65" x2="1926.62" y2="1052.80" stroke="#000" stroke-width="2.70"/>
<line x1="1952.13" y1="1039.65" x2="1952.13" y2="1046.90" stroke="#000" stroke-width="2.70"/>
<line x1="1977.64" y1="1039.65" x2="1977.64" y2="1046.90" stroke="#000" stroke-width="2.70"/>
<line x1="2003.40" y1="1039.65" x2="2003.40" y2="1046.80" stroke="#000" stroke-width="2.70"/>
<text x="1138.10" y="621.00" font-size="24.20" text-anchor="end" fill="#000" stroke="#000" stroke-width="0.35" font-weight="normal" textLength="42.20" lengthAdjust="spacingAndGlyphs">100</text>
<text x="1138.00" y="1046.20" font-size="24.20" text-anchor="end" fill="#000" stroke="#000" stroke-width="0.35" font-weight="normal">0</text>
<text x="1187.00" y="641.00" font-size="25.00" text-anchor="start" fill="#000" stroke="#000" stroke-width="0.35" font-weight="normal" textLength="186.4" lengthAdjust="spacingAndGlyphs">C 12 + Sialidase</text>
<text transform="translate(1078.5,826.4) rotate(-90)" font-size="25.00" text-anchor="middle" stroke="#000" stroke-width="0.35">Abundance</text>
<text x="1292.70" y="1093.60" font-size="24.20" text-anchor="middle" fill="#000" stroke="#000" stroke-width="0.35" font-weight="normal" textLength="77.37" lengthAdjust="spacingAndGlyphs">26,000</text>
<text x="1548.30" y="1093.60" font-size="24.20" text-anchor="middle" fill="#000" stroke="#000" stroke-width="0.35" font-weight="normal" textLength="77.37" lengthAdjust="spacingAndGlyphs">27,000</text>
<text x="1800.40" y="1093.60" font-size="24.20" text-anchor="middle" fill="#000" stroke="#000" stroke-width="0.35" font-weight="normal" textLength="77.37" lengthAdjust="spacingAndGlyphs">28,000</text>
<text x="1978.00" y="1093.70" font-size="25.00" text-anchor="start" fill="#000" stroke="#000" stroke-width="0.35" font-weight="normal">Da</text>
<polyline points="1288.80,1039.00 1296.00,1039.00 1296.10,1038.95 1296.30,1038.49 1296.50,1037.60 1297.40,1032.18 1297.60,1031.61 1297.70,1031.50 1297.80,1031.49 1298.60,1031.49 1298.80,1031.79 1299.10,1033.05 1299.90,1038.01 1300.10,1038.73 1300.30,1039.00 1310.10,1039.00 1310.20,1038.85 1310.30,1038.36 1310.50,1036.40 1311.50,1019.49 1311.70,1017.86 1311.80,1017.55 1311.90,1017.52 1312.70,1017.53 1312.90,1018.37 1313.20,1021.98 1314.00,1036.18 1314.20,1038.24 1314.30,1038.79 1314.40,1039.00 1326.50,1038.97 1326.70,1038.75 1326.90,1038.32 1327.80,1035.70 1328.00,1035.43 1328.20,1035.37 1329.00,1035.37 1329.20,1035.52 1329.50,1036.13 1330.20,1038.28 1330.40,1038.72 1330.60,1038.97 1337.60,1039.00 1337.70,1038.91 1337.90,1035.63 1338.10,1028.06 1339.00,975.19 1339.20,968.58 1339.30,966.92 1339.40,966.42 1340.20,966.42 1340.30,966.71 1340.50,970.67 1340.80,984.14 1341.50,1027.01 1341.80,1037.46 1341.90,1038.78 1342.00,1039.00 1346.90,1038.99 1347.10,1038.72 1347.30,1038.14 1348.20,1034.28 1348.40,1033.82 1348.60,1033.69 1349.50,1033.72 1349.70,1034.04 1350.00,1035.05 1350.70,1038.18 1350.90,1038.74 1351.10,1038.99 1357.50,1038.99 1357.70,1038.69 1357.90,1038.03 1358.80,1033.50 1359.00,1032.95 1359.20,1032.78 1360.10,1032.81 1360.30,1033.17 1360.60,1034.34 1361.30,1038.01 1361.60,1038.88 1361.80,1039.00 1367.50,1038.99 1367.70,1038.84 1367.90,1038.57 1368.80,1036.88 1369.00,1036.70 1369.20,1036.66 1370.00,1036.66 1370.20,1036.75 1370.50,1037.14 1371.30,1038.69 1371.50,1038.91 1371.70,1039.00 1378.20,1039.00 1378.60,1038.77 1379.50,1037.73 1379.70,1037.61 1379.90,1037.57 1380.80,1037.58 1381.00,1037.66 1381.30,1037.93 1382.00,1038.78 1382.40,1039.00 1394.10,1038.99 1394.30,1038.71 1394.50,1038.06 1395.40,1033.53 1395.60,1032.96 1395.80,1032.78 1396.70,1032.81 1396.90,1033.15 1397.20,1034.31 1397.90,1037.98 1398.10,1038.66 1398.30,1038.98 1409.90,1038.99 1410.10,1038.74 1410.30,1038.23 1411.00,1035.48 1411.30,1034.61 1411.50,1034.35 1412.40,1034.33 1412.60,1034.47 1412.80,1034.90 1413.70,1038.29 1413.90,1038.78 1414.10,1038.99 1420.20,1039.00 1420.30,1038.87 1420.40,1038.55 1420.60,1037.34 1421.30,1030.10 1421.60,1027.58 1421.80,1026.72 1421.90,1026.58 1422.00,1026.57 1422.80,1026.59 1423.00,1027.16 1423.30,1029.34 1424.00,1036.71 1424.20,1038.17 1424.40,1038.92 1424.50,1039.00 1435.90,1039.00 1436.00,1038.94 1436.10,1037.83 1436.30,1031.67 1437.30,965.72 1437.50,957.89 1437.60,955.85 1437.70,955.17 1438.50,955.17 1438.60,955.42 1438.80,959.78 1439.10,975.08 1439.80,1024.67 1440.10,1037.03 1440.20,1038.67 1440.30,1039.00 1447.00,1038.98 1447.20,1038.31 1447.40,1036.73 1448.30,1025.60 1448.50,1024.20 1448.60,1023.84 1448.70,1023.73 1449.50,1023.73 1449.60,1023.78 1449.80,1024.60 1450.10,1027.41 1450.80,1036.44 1451.00,1038.14 1451.20,1038.95 1451.30,1039.00 1456.40,1039.00 1456.50,1038.85 1456.60,1038.37 1456.80,1036.46 1457.80,1020.06 1458.00,1018.49 1458.10,1018.19 1458.20,1018.17 1459.00,1018.17 1459.20,1019.01 1459.50,1022.52 1460.30,1036.28 1460.50,1038.27 1460.60,1038.80 1460.70,1039.00 1467.50,1038.97 1467.70,1038.69 1467.90,1038.16 1468.60,1035.54 1468.90,1034.79 1469.10,1034.60 1469.90,1034.59 1470.10,1034.65 1470.30,1034.97 1471.30,1038.44 1471.50,1038.85 1471.70,1039.00 1477.40,1039.00 1477.60,1038.86 1477.80,1038.55 1478.70,1036.38 1478.90,1036.11 1479.10,1036.02 1480.00,1036.03 1480.20,1036.19 1480.50,1036.74 1481.20,1038.50 1481.40,1038.83 1481.60,1038.99 1487.20,1039.00 1487.40,1038.85 1487.60,1038.50 1488.30,1036.52 1488.60,1035.86 1488.80,1035.65 1488.90,1035.63 1489.70,1035.63 1489.90,1035.70 1490.20,1036.20 1491.10,1038.65 1491.30,1038.93 1491.50,1039.00 1498.00,1038.99 1498.40,1038.80 1499.20,1038.11 1499.50,1037.97 1499.70,1037.96 1500.70,1038.00 1501.00,1038.18 1501.80,1038.87 1502.20,1039.00 1507.70,1038.99 1508.10,1038.80 1508.90,1038.11 1509.20,1037.97 1509.40,1037.96 1510.40,1038.00 1510.70,1038.18 1511.40,1038.80 1511.80,1038.99 1519.00,1039.00 1519.40,1038.81 1520.40,1037.68 1520.80,1037.57 1521.60,1037.57 1521.80,1037.64 1522.10,1037.89 1522.90,1038.83 1523.10,1038.96 1523.30,1039.00 1528.60,1039.00 1529.00,1038.84 1529.90,1038.08 1530.30,1037.96 1531.20,1037.96 1531.40,1038.02 1532.40,1038.83 1532.80,1039.00 1539.60,1039.00 1540.00,1038.78 1540.90,1037.73 1541.10,1037.61 1541.30,1037.57 1542.20,1037.58 1542.40,1037.66 1542.70,1037.93 1543.40,1038.77 1543.70,1038.97 1546.00,1039.00" fill="none" stroke="#000" stroke-width="1.70" stroke-linejoin="round"/>
<polyline points="1288.80,1039.00 1300.60,1039.00 1301.00,1038.83 1301.90,1038.07 1302.30,1037.96 1303.10,1037.96 1303.40,1038.03 1304.40,1038.84 1304.80,1039.00 1314.80,1039.00 1315.00,1038.88 1315.20,1038.60 1316.10,1036.61 1316.30,1036.36 1316.50,1036.27 1317.40,1036.28 1317.60,1036.43 1317.90,1036.93 1318.60,1038.54 1318.80,1038.84 1319.00,1038.99 1330.70,1039.00 1330.90,1038.89 1331.10,1038.62 1331.90,1036.81 1332.20,1036.37 1332.40,1036.27 1333.20,1036.27 1333.40,1036.33 1333.60,1036.55 1334.50,1038.52 1334.70,1038.83 1334.90,1038.99 1342.20,1039.00 1342.30,1038.88 1342.40,1038.57 1342.60,1037.43 1343.30,1030.56 1343.60,1028.18 1343.80,1027.36 1343.90,1027.22 1344.00,1027.22 1344.80,1027.24 1345.00,1027.78 1345.30,1029.85 1346.00,1036.83 1346.20,1038.21 1346.40,1038.92 1346.50,1039.00 1351.60,1039.00 1351.70,1038.77 1351.80,1037.65 1352.10,1029.16 1353.00,987.28 1353.20,982.53 1353.30,981.48 1353.40,981.30 1354.20,981.30 1354.30,981.76 1354.50,985.45 1354.80,996.75 1355.50,1030.60 1355.70,1036.50 1355.90,1038.95 1356.00,1039.00 1362.70,1038.99 1362.90,1038.86 1363.10,1038.59 1363.80,1037.21 1364.10,1036.79 1364.30,1036.67 1365.20,1036.66 1365.40,1036.74 1365.60,1036.96 1366.40,1038.51 1366.60,1038.80 1366.80,1038.97 1372.50,1038.99 1372.70,1038.56 1372.90,1037.59 1373.60,1032.18 1373.90,1030.42 1374.10,1029.86 1374.20,1029.81 1375.00,1029.81 1375.10,1029.85 1375.20,1030.03 1375.40,1030.82 1376.30,1037.51 1376.50,1038.51 1376.70,1038.98 1389.40,1039.00 1389.50,1038.81 1389.60,1038.24 1389.80,1036.03 1390.60,1020.33 1390.90,1016.23 1391.10,1015.21 1391.90,1015.19 1392.00,1015.21 1392.10,1015.51 1392.30,1017.24 1393.30,1035.96 1393.50,1038.21 1393.60,1038.80 1393.70,1039.00 1404.10,1038.99 1404.50,1038.81 1405.40,1038.06 1405.80,1037.96 1406.80,1037.99 1407.10,1038.17 1407.90,1038.86 1408.30,1039.00 1416.10,1038.99 1416.30,1038.74 1416.50,1038.20 1417.20,1035.22 1417.50,1034.26 1417.70,1033.97 1418.60,1033.95 1418.80,1034.08 1419.00,1034.53 1419.90,1038.21 1420.10,1038.75 1420.30,1038.99 1431.10,1039.00 1431.20,1038.13 1431.30,1031.21 1431.50,997.74 1432.40,691.76 1432.70,627.64 1432.80,618.68 1432.90,616.45 1433.70,616.45 1433.80,618.68 1434.00,643.18 1434.30,723.20 1435.00,972.30 1435.30,1031.21 1435.40,1038.13 1435.50,1039.00 1440.20,1039.00 1440.30,1038.94 1440.50,1037.87 1440.70,1035.61 1441.60,1020.75 1441.80,1019.03 1441.90,1018.63 1442.00,1018.55 1442.80,1018.55 1442.90,1018.70 1443.10,1019.96 1443.40,1023.91 1444.10,1035.93 1444.30,1038.06 1444.50,1038.98 1451.60,1039.00 1451.70,1038.61 1451.90,1034.22 1452.10,1025.48 1453.00,970.29 1453.20,964.23 1453.30,962.97 1453.40,962.80 1454.20,962.81 1454.30,963.54 1454.40,965.51 1454.70,977.94 1455.50,1028.39 1455.70,1035.97 1455.80,1038.08 1455.90,1038.97 1461.50,1039.00 1461.70,1038.95 1462.00,1038.36 1462.80,1035.27 1463.10,1034.50 1463.30,1034.34 1464.10,1034.33 1464.30,1034.42 1464.50,1034.79 1465.40,1038.16 1465.60,1038.70 1465.80,1038.97 1472.60,1038.99 1472.80,1038.46 1473.00,1037.12 1473.80,1028.29 1474.10,1026.13 1474.20,1025.79 1474.30,1025.67 1475.10,1025.67 1475.20,1025.70 1475.30,1025.93 1475.50,1027.00 1476.40,1036.66 1476.60,1038.18 1476.80,1038.94 1476.90,1039.00 1482.50,1039.00 1482.60,1038.88 1482.70,1038.50 1482.90,1037.01 1483.70,1026.27 1484.00,1023.43 1484.20,1022.71 1485.00,1022.69 1485.10,1022.70 1485.20,1022.90 1485.40,1024.06 1485.70,1027.38 1486.40,1036.88 1486.60,1038.43 1486.70,1038.85 1486.80,1039.00 1492.80,1038.99 1493.00,1038.82 1493.20,1038.48 1494.10,1036.32 1494.30,1036.08 1494.50,1036.02 1495.30,1036.02 1495.50,1036.12 1495.80,1036.60 1496.60,1038.58 1496.80,1038.88 1497.00,1039.00 1502.50,1038.99 1502.70,1038.86 1502.90,1038.59 1503.80,1036.90 1504.00,1036.71 1504.20,1036.66 1505.00,1036.66 1505.20,1036.74 1505.50,1037.12 1506.30,1038.67 1506.50,1038.90 1506.70,1039.00 1513.50,1038.99 1513.70,1038.89 1513.90,1038.68 1514.80,1037.36 1515.00,1037.21 1515.20,1037.18 1516.00,1037.18 1516.20,1037.24 1516.50,1037.54 1517.30,1038.75 1517.50,1038.93 1517.70,1039.00 1524.70,1039.00 1524.90,1038.71 1525.10,1038.01 1525.90,1033.38 1526.20,1032.25 1526.40,1032.01 1527.20,1032.01 1527.30,1032.02 1527.40,1032.14 1527.60,1032.70 1528.50,1037.77 1528.70,1038.57 1528.90,1038.97 1534.50,1038.97 1534.70,1038.81 1534.90,1038.51 1535.50,1037.30 1535.80,1036.84 1536.10,1036.66 1536.90,1036.66 1537.10,1036.71 1537.30,1036.89 1538.20,1038.59 1538.40,1038.85 1538.60,1038.99 1546.00,1039.00" fill="none" stroke="#000" stroke-width="1.70" stroke-linejoin="round"/>
<text x="1433.40" y="573.00" font-size="24.20" text-anchor="middle" fill="#C23B33" stroke="#C23B33" stroke-width="0.35" font-weight="normal">0</text>
<ellipse cx="1433.40" cy="595.00" rx="2.35" ry="17.10" fill="#C23B33"/>
<text x="1339.20" y="915.50" font-size="24.20" text-anchor="middle" fill="#FF19FF" stroke="#FF19FF" stroke-width="0.35" font-weight="normal">0</text>
<ellipse cx="1338.70" cy="941.40" rx="2.35" ry="17.10" fill="#FF19FF"/>
<text x="1393.10" y="969.20" font-size="24.20" text-anchor="middle" fill="#5E0F9E" stroke="#5E0F9E" stroke-width="0.35" font-weight="normal">0</text>
<ellipse cx="1393.20" cy="991.45" rx="2.35" ry="17.15" fill="#5E0F9E"/>
<polyline points="1448.3,594.6 1570.8,594.6 1570.8,642" fill="none" stroke="#000" stroke-width="1.6"/>
<path d="M1570.8,650.0 L1565.6,639.0 L1570.8,641.8 L1576.0,639.0 Z" fill="#000"/>
<circle cx="1476.10" cy="670.60" r="6.60" fill="#FFD400" stroke="#222" stroke-width="0.9"/>
<circle cx="1504.30" cy="670.60" r="6.60" fill="#FFD400" stroke="#222" stroke-width="0.9"/>
<rect x="1469.40" y="678.80" width="13.40" height="13.40" fill="#0A72BA" stroke="#222" stroke-width="0.9"/>
<rect x="1497.70" y="678.80" width="13.40" height="13.40" fill="#0A72BA" stroke="#222" stroke-width="0.9"/>
<circle cx="1479.60" cy="701.90" r="6.60" fill="#00A651" stroke="#222" stroke-width="0.9"/>
<circle cx="1504.30" cy="701.90" r="6.60" fill="#00A651" stroke="#222" stroke-width="0.9"/>
<circle cx="1492.10" cy="714.30" r="6.60" fill="#00A651" stroke="#222" stroke-width="0.9"/>
<rect x="1485.40" y="723.40" width="13.40" height="13.40" fill="#0A72BA" stroke="#222" stroke-width="0.9"/>
<rect x="1485.40" y="738.20" width="13.40" height="13.40" fill="#0A72BA" stroke="#222" stroke-width="0.9"/>
<path d="M1501.20,744.90 L1513.50,738.80 L1513.50,750.90 Z" fill="#E3242B" stroke="#222" stroke-width="0.9"/>
<circle cx="1542.40" cy="672.40" r="6.60" fill="#FFD400" stroke="#222" stroke-width="0.9"/>
<circle cx="1570.60" cy="672.40" r="6.60" fill="#FFD400" stroke="#222" stroke-width="0.9"/>
<rect x="1535.70" y="680.60" width="13.40" height="13.40" fill="#0A72BA" stroke="#222" stroke-width="0.9"/>
<rect x="1564.00" y="680.60" width="13.40" height="13.40" fill="#0A72BA" stroke="#222" stroke-width="0.9"/>
<circle cx="1545.90" cy="703.70" r="6.60" fill="#00A651" stroke="#222" stroke-width="0.9"/>
<circle cx="1570.60" cy="703.70" r="6.60" fill="#00A651" stroke="#222" stroke-width="0.9"/>
<circle cx="1558.40" cy="716.10" r="6.60" fill="#00A651" stroke="#222" stroke-width="0.9"/>
<rect x="1551.70" y="725.20" width="13.40" height="13.40" fill="#0A72BA" stroke="#222" stroke-width="0.9"/>
<rect x="1551.70" y="740.00" width="13.40" height="13.40" fill="#0A72BA" stroke="#222" stroke-width="0.9"/>
<path d="M1567.50,746.70 L1579.80,740.60 L1579.80,752.70 Z" fill="#E3242B" stroke="#222" stroke-width="0.9"/>
<circle cx="1605.90" cy="672.40" r="6.60" fill="#FFD400" stroke="#222" stroke-width="0.9"/>
<circle cx="1634.10" cy="672.40" r="6.60" fill="#FFD400" stroke="#222" stroke-width="0.9"/>
<rect x="1599.20" y="680.60" width="13.40" height="13.40" fill="#0A72BA" stroke="#222" stroke-width="0.9"/>
<rect x="1627.50" y="680.60" width="13.40" height="13.40" fill="#0A72BA" stroke="#222" stroke-width="0.9"/>
<circle cx="1609.40" cy="703.70" r="6.60" fill="#00A651" stroke="#222" stroke-width="0.9"/>
<circle cx="1634.10" cy="703.70" r="6.60" fill="#00A651" stroke="#222" stroke-width="0.9"/>
<circle cx="1621.90" cy="716.10" r="6.60" fill="#00A651" stroke="#222" stroke-width="0.9"/>
<rect x="1615.20" y="725.20" width="13.40" height="13.40" fill="#0A72BA" stroke="#222" stroke-width="0.9"/>
<rect x="1615.20" y="740.00" width="13.40" height="13.40" fill="#0A72BA" stroke="#222" stroke-width="0.9"/>
<path d="M1631.00,746.70 L1643.30,740.60 L1643.30,752.70 Z" fill="#E3242B" stroke="#222" stroke-width="0.9"/>
<circle cx="1674.00" cy="732.60" r="6.60" fill="#FFD400" stroke="#222" stroke-width="0.9"/>
<rect x="1667.40" y="740.00" width="12.80" height="12.80" fill="#FFD400" stroke="#222" stroke-width="0.9"/>
</svg></body></html>
